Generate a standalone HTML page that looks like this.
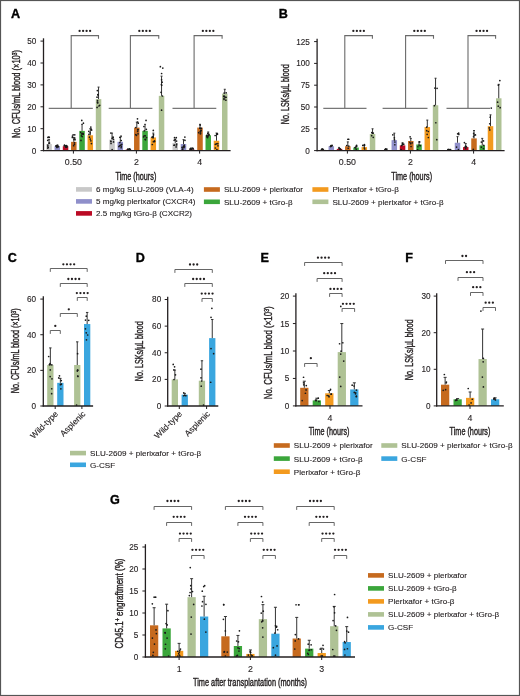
<!DOCTYPE html><html><head><meta charset="utf-8"><style>html,body{margin:0;padding:0;background:#fff;width:520px;height:696px;overflow:hidden}svg{display:block;will-change:transform;font-family:"Liberation Sans", sans-serif}</style></head><body><svg width="520" height="696" viewBox="0 0 520 696"><rect width="520" height="696" fill="#fff"/><rect x="0.5" y="0.5" width="519" height="695" fill="none" stroke="#555" stroke-width="1.2"/>
<text x="15.50" y="17.90" font-size="12.6" text-anchor="middle" font-weight="bold" fill="#000" stroke="#000" stroke-width="0.35">A</text>
<text x="283.20" y="17.80" font-size="12.6" text-anchor="middle" font-weight="bold" fill="#000" stroke="#000" stroke-width="0.35">B</text>
<text x="12.20" y="261.70" font-size="12.6" text-anchor="middle" font-weight="bold" fill="#000" stroke="#000" stroke-width="0.35">C</text>
<text x="140.40" y="261.70" font-size="12.6" text-anchor="middle" font-weight="bold" fill="#000" stroke="#000" stroke-width="0.35">D</text>
<text x="264.70" y="262.10" font-size="12.6" text-anchor="middle" font-weight="bold" fill="#000" stroke="#000" stroke-width="0.35">E</text>
<text x="409.00" y="262.20" font-size="12.6" text-anchor="middle" font-weight="bold" fill="#000" stroke="#000" stroke-width="0.35">F</text>
<text x="114.90" y="504.40" font-size="12.6" text-anchor="middle" font-weight="bold" fill="#000" stroke="#000" stroke-width="0.35">G</text>
<line x1="43.50" y1="38.30" x2="43.50" y2="151.20" stroke="#231f20" stroke-width="1.3"/>
<line x1="40.50" y1="150.60" x2="43.50" y2="150.60" stroke="#231f20" stroke-width="1.0"/>
<text x="36.30" y="153.55" font-size="8.2" text-anchor="end" font-weight="normal" fill="#231f20" stroke="#231f20" stroke-width="0.12">0</text>
<line x1="40.50" y1="128.70" x2="43.50" y2="128.70" stroke="#231f20" stroke-width="1.0"/>
<text x="36.30" y="131.65" font-size="8.2" text-anchor="end" font-weight="normal" fill="#231f20" stroke="#231f20" stroke-width="0.12">10</text>
<line x1="40.50" y1="106.80" x2="43.50" y2="106.80" stroke="#231f20" stroke-width="1.0"/>
<text x="36.30" y="109.75" font-size="8.2" text-anchor="end" font-weight="normal" fill="#231f20" stroke="#231f20" stroke-width="0.12">20</text>
<line x1="40.50" y1="84.90" x2="43.50" y2="84.90" stroke="#231f20" stroke-width="1.0"/>
<text x="36.30" y="87.85" font-size="8.2" text-anchor="end" font-weight="normal" fill="#231f20" stroke="#231f20" stroke-width="0.12">30</text>
<line x1="40.50" y1="63.00" x2="43.50" y2="63.00" stroke="#231f20" stroke-width="1.0"/>
<text x="36.30" y="65.95" font-size="8.2" text-anchor="end" font-weight="normal" fill="#231f20" stroke="#231f20" stroke-width="0.12">40</text>
<line x1="40.50" y1="41.10" x2="43.50" y2="41.10" stroke="#231f20" stroke-width="1.0"/>
<text x="36.30" y="44.05" font-size="8.2" text-anchor="end" font-weight="normal" fill="#231f20" stroke="#231f20" stroke-width="0.12">50</text>
<rect x="46.30" y="144.03" width="5.50" height="6.57" fill="#c8c8c8"/>
<line x1="49.05" y1="144.03" x2="49.05" y2="139.65" stroke="#333" stroke-width="1.0"/>
<line x1="48.05" y1="139.65" x2="50.05" y2="139.65" stroke="#333" stroke-width="1.0"/>
<circle cx="49.51" cy="143.02" r="0.85" fill="#1a1a1a"/>
<circle cx="47.76" cy="146.05" r="0.85" fill="#1a1a1a"/>
<circle cx="47.71" cy="140.36" r="0.85" fill="#1a1a1a"/>
<circle cx="49.07" cy="143.19" r="0.85" fill="#1a1a1a"/>
<circle cx="47.75" cy="148.12" r="0.85" fill="#1a1a1a"/>
<circle cx="47.81" cy="145.01" r="0.85" fill="#1a1a1a"/>
<circle cx="47.91" cy="137.46" r="0.85" fill="#1a1a1a"/>
<circle cx="48.21" cy="147.40" r="0.85" fill="#1a1a1a"/>
<circle cx="49.28" cy="137.36" r="0.85" fill="#1a1a1a"/>
<circle cx="48.74" cy="137.16" r="0.85" fill="#1a1a1a"/>
<rect x="54.55" y="146.22" width="5.50" height="4.38" fill="#8f8fca"/>
<line x1="57.30" y1="146.22" x2="57.30" y2="145.12" stroke="#333" stroke-width="1.0"/>
<line x1="56.30" y1="145.12" x2="58.30" y2="145.12" stroke="#333" stroke-width="1.0"/>
<circle cx="58.38" cy="146.52" r="0.85" fill="#1a1a1a"/>
<circle cx="56.66" cy="146.17" r="0.85" fill="#1a1a1a"/>
<circle cx="56.72" cy="146.52" r="0.85" fill="#1a1a1a"/>
<circle cx="58.26" cy="146.61" r="0.85" fill="#1a1a1a"/>
<circle cx="57.72" cy="146.77" r="0.85" fill="#1a1a1a"/>
<circle cx="56.91" cy="147.40" r="0.85" fill="#1a1a1a"/>
<circle cx="55.97" cy="145.88" r="0.85" fill="#1a1a1a"/>
<circle cx="56.41" cy="146.12" r="0.85" fill="#1a1a1a"/>
<circle cx="56.74" cy="145.78" r="0.85" fill="#1a1a1a"/>
<circle cx="57.56" cy="145.28" r="0.85" fill="#1a1a1a"/>
<rect x="62.80" y="146.22" width="5.50" height="4.38" fill="#bb0a24"/>
<line x1="65.55" y1="146.22" x2="65.55" y2="145.56" stroke="#333" stroke-width="1.0"/>
<line x1="64.55" y1="145.56" x2="66.55" y2="145.56" stroke="#333" stroke-width="1.0"/>
<circle cx="66.44" cy="145.64" r="0.85" fill="#1a1a1a"/>
<circle cx="66.15" cy="146.40" r="0.85" fill="#1a1a1a"/>
<circle cx="65.63" cy="146.25" r="0.85" fill="#1a1a1a"/>
<circle cx="66.68" cy="147.16" r="0.85" fill="#1a1a1a"/>
<circle cx="67.00" cy="146.14" r="0.85" fill="#1a1a1a"/>
<circle cx="64.39" cy="145.63" r="0.85" fill="#1a1a1a"/>
<circle cx="64.50" cy="145.17" r="0.85" fill="#1a1a1a"/>
<circle cx="65.52" cy="146.82" r="0.85" fill="#1a1a1a"/>
<circle cx="66.35" cy="147.26" r="0.85" fill="#1a1a1a"/>
<circle cx="65.77" cy="146.48" r="0.85" fill="#1a1a1a"/>
<rect x="71.05" y="141.84" width="5.50" height="8.76" fill="#c66a1e"/>
<line x1="73.80" y1="141.84" x2="73.80" y2="137.46" stroke="#333" stroke-width="1.0"/>
<line x1="72.80" y1="137.46" x2="74.80" y2="137.46" stroke="#333" stroke-width="1.0"/>
<circle cx="74.39" cy="144.27" r="0.85" fill="#1a1a1a"/>
<circle cx="74.09" cy="139.43" r="0.85" fill="#1a1a1a"/>
<circle cx="74.83" cy="138.03" r="0.85" fill="#1a1a1a"/>
<circle cx="75.15" cy="139.75" r="0.85" fill="#1a1a1a"/>
<circle cx="72.47" cy="136.09" r="0.85" fill="#1a1a1a"/>
<circle cx="74.41" cy="142.78" r="0.85" fill="#1a1a1a"/>
<circle cx="74.77" cy="134.83" r="0.85" fill="#1a1a1a"/>
<circle cx="73.15" cy="134.83" r="0.85" fill="#1a1a1a"/>
<circle cx="72.36" cy="137.43" r="0.85" fill="#1a1a1a"/>
<circle cx="73.68" cy="145.69" r="0.85" fill="#1a1a1a"/>
<rect x="79.30" y="130.89" width="5.50" height="19.71" fill="#3ba63b"/>
<line x1="82.05" y1="130.89" x2="82.05" y2="124.32" stroke="#333" stroke-width="1.0"/>
<line x1="81.05" y1="124.32" x2="83.05" y2="124.32" stroke="#333" stroke-width="1.0"/>
<circle cx="80.72" cy="132.34" r="0.85" fill="#1a1a1a"/>
<circle cx="82.86" cy="133.46" r="0.85" fill="#1a1a1a"/>
<circle cx="81.72" cy="133.96" r="0.85" fill="#1a1a1a"/>
<circle cx="83.17" cy="134.13" r="0.85" fill="#1a1a1a"/>
<circle cx="82.20" cy="136.54" r="0.85" fill="#1a1a1a"/>
<circle cx="83.21" cy="134.02" r="0.85" fill="#1a1a1a"/>
<circle cx="81.38" cy="135.87" r="0.85" fill="#1a1a1a"/>
<circle cx="81.79" cy="120.38" r="0.85" fill="#1a1a1a"/>
<circle cx="83.43" cy="123.14" r="0.85" fill="#1a1a1a"/>
<circle cx="80.99" cy="140.41" r="0.85" fill="#1a1a1a"/>
<rect x="87.55" y="135.27" width="5.50" height="15.33" fill="#f39a1e"/>
<line x1="90.30" y1="135.27" x2="90.30" y2="128.70" stroke="#333" stroke-width="1.0"/>
<line x1="89.30" y1="128.70" x2="91.30" y2="128.70" stroke="#333" stroke-width="1.0"/>
<circle cx="89.49" cy="137.19" r="0.85" fill="#1a1a1a"/>
<circle cx="90.25" cy="139.11" r="0.85" fill="#1a1a1a"/>
<circle cx="88.80" cy="131.36" r="0.85" fill="#1a1a1a"/>
<circle cx="90.05" cy="132.82" r="0.85" fill="#1a1a1a"/>
<circle cx="91.67" cy="130.06" r="0.85" fill="#1a1a1a"/>
<circle cx="90.88" cy="140.87" r="0.85" fill="#1a1a1a"/>
<circle cx="90.83" cy="127.11" r="0.85" fill="#1a1a1a"/>
<circle cx="88.95" cy="134.47" r="0.85" fill="#1a1a1a"/>
<circle cx="91.43" cy="143.58" r="0.85" fill="#1a1a1a"/>
<circle cx="91.20" cy="129.20" r="0.85" fill="#1a1a1a"/>
<rect x="95.80" y="99.13" width="5.50" height="51.47" fill="#afc295"/>
<line x1="98.55" y1="99.13" x2="98.55" y2="87.09" stroke="#333" stroke-width="1.0"/>
<line x1="97.55" y1="87.09" x2="99.55" y2="87.09" stroke="#333" stroke-width="1.0"/>
<circle cx="97.35" cy="90.60" r="0.85" fill="#1a1a1a"/>
<circle cx="98.96" cy="105.98" r="0.85" fill="#1a1a1a"/>
<circle cx="97.67" cy="102.88" r="0.85" fill="#1a1a1a"/>
<circle cx="97.53" cy="100.68" r="0.85" fill="#1a1a1a"/>
<circle cx="97.04" cy="97.22" r="0.85" fill="#1a1a1a"/>
<circle cx="97.50" cy="102.14" r="0.85" fill="#1a1a1a"/>
<circle cx="97.11" cy="107.42" r="0.85" fill="#1a1a1a"/>
<circle cx="99.68" cy="105.27" r="0.85" fill="#1a1a1a"/>
<circle cx="97.80" cy="94.50" r="0.85" fill="#1a1a1a"/>
<circle cx="98.09" cy="95.10" r="0.85" fill="#1a1a1a"/>
<line x1="48.70" y1="108.30" x2="92.80" y2="108.30" stroke="#777" stroke-width="1.2"/>
<polyline points="71.20,108 71.20,35.6 98.50,35.6 98.50,38.8" fill="none" stroke="#6a6a6a" stroke-width="1.1"/>
<circle cx="79.60" cy="30.90" r="1.15" fill="#231f20"/>
<circle cx="83.10" cy="30.90" r="1.15" fill="#231f20"/>
<circle cx="86.60" cy="30.90" r="1.15" fill="#231f20"/>
<circle cx="90.10" cy="30.90" r="1.15" fill="#231f20"/>
<text x="73.40" y="165.00" font-size="8.8" text-anchor="middle" font-weight="normal" fill="#231f20" stroke="#231f20" stroke-width="0.12">0.50</text>
<rect x="109.30" y="139.65" width="5.50" height="10.95" fill="#c8c8c8"/>
<line x1="112.05" y1="139.65" x2="112.05" y2="133.08" stroke="#333" stroke-width="1.0"/>
<line x1="111.05" y1="133.08" x2="113.05" y2="133.08" stroke="#333" stroke-width="1.0"/>
<circle cx="113.11" cy="137.66" r="0.85" fill="#1a1a1a"/>
<circle cx="113.54" cy="141.93" r="0.85" fill="#1a1a1a"/>
<circle cx="110.80" cy="133.00" r="0.85" fill="#1a1a1a"/>
<circle cx="110.85" cy="141.09" r="0.85" fill="#1a1a1a"/>
<circle cx="113.04" cy="137.10" r="0.85" fill="#1a1a1a"/>
<circle cx="111.03" cy="143.52" r="0.85" fill="#1a1a1a"/>
<circle cx="112.14" cy="149.70" r="0.85" fill="#1a1a1a"/>
<circle cx="110.98" cy="141.75" r="0.85" fill="#1a1a1a"/>
<circle cx="112.14" cy="138.32" r="0.85" fill="#1a1a1a"/>
<circle cx="113.50" cy="139.28" r="0.85" fill="#1a1a1a"/>
<rect x="117.55" y="141.84" width="5.50" height="8.76" fill="#8f8fca"/>
<line x1="120.30" y1="141.84" x2="120.30" y2="137.46" stroke="#333" stroke-width="1.0"/>
<line x1="119.30" y1="137.46" x2="121.30" y2="137.46" stroke="#333" stroke-width="1.0"/>
<circle cx="119.58" cy="145.82" r="0.85" fill="#1a1a1a"/>
<circle cx="119.90" cy="137.23" r="0.85" fill="#1a1a1a"/>
<circle cx="120.40" cy="145.22" r="0.85" fill="#1a1a1a"/>
<circle cx="121.14" cy="147.72" r="0.85" fill="#1a1a1a"/>
<circle cx="121.24" cy="140.50" r="0.85" fill="#1a1a1a"/>
<circle cx="121.77" cy="144.30" r="0.85" fill="#1a1a1a"/>
<circle cx="121.26" cy="146.13" r="0.85" fill="#1a1a1a"/>
<circle cx="121.03" cy="136.13" r="0.85" fill="#1a1a1a"/>
<circle cx="119.86" cy="142.53" r="0.85" fill="#1a1a1a"/>
<circle cx="118.88" cy="146.55" r="0.85" fill="#1a1a1a"/>
<rect x="125.80" y="149.50" width="5.50" height="1.09" fill="#bb0a24"/>
<line x1="128.55" y1="149.50" x2="128.55" y2="149.07" stroke="#333" stroke-width="1.0"/>
<line x1="127.55" y1="149.07" x2="129.55" y2="149.07" stroke="#333" stroke-width="1.0"/>
<circle cx="127.82" cy="149.70" r="0.85" fill="#1a1a1a"/>
<circle cx="129.13" cy="149.61" r="0.85" fill="#1a1a1a"/>
<circle cx="129.87" cy="149.70" r="0.85" fill="#1a1a1a"/>
<circle cx="130.03" cy="149.29" r="0.85" fill="#1a1a1a"/>
<circle cx="127.70" cy="149.70" r="0.85" fill="#1a1a1a"/>
<circle cx="127.72" cy="149.31" r="0.85" fill="#1a1a1a"/>
<circle cx="128.93" cy="149.66" r="0.85" fill="#1a1a1a"/>
<circle cx="129.76" cy="149.70" r="0.85" fill="#1a1a1a"/>
<circle cx="129.01" cy="149.70" r="0.85" fill="#1a1a1a"/>
<circle cx="129.46" cy="148.81" r="0.85" fill="#1a1a1a"/>
<rect x="134.05" y="127.60" width="5.50" height="23.00" fill="#c66a1e"/>
<line x1="136.80" y1="127.60" x2="136.80" y2="122.13" stroke="#333" stroke-width="1.0"/>
<line x1="135.80" y1="122.13" x2="137.80" y2="122.13" stroke="#333" stroke-width="1.0"/>
<circle cx="138.04" cy="133.85" r="0.85" fill="#1a1a1a"/>
<circle cx="137.65" cy="131.28" r="0.85" fill="#1a1a1a"/>
<circle cx="135.83" cy="127.61" r="0.85" fill="#1a1a1a"/>
<circle cx="137.67" cy="121.99" r="0.85" fill="#1a1a1a"/>
<circle cx="138.23" cy="123.22" r="0.85" fill="#1a1a1a"/>
<circle cx="136.48" cy="135.29" r="0.85" fill="#1a1a1a"/>
<circle cx="137.48" cy="118.84" r="0.85" fill="#1a1a1a"/>
<circle cx="135.80" cy="134.54" r="0.85" fill="#1a1a1a"/>
<circle cx="138.02" cy="129.57" r="0.85" fill="#1a1a1a"/>
<circle cx="137.73" cy="129.63" r="0.85" fill="#1a1a1a"/>
<rect x="142.30" y="130.89" width="5.50" height="19.71" fill="#3ba63b"/>
<line x1="145.05" y1="130.89" x2="145.05" y2="124.32" stroke="#333" stroke-width="1.0"/>
<line x1="144.05" y1="124.32" x2="146.05" y2="124.32" stroke="#333" stroke-width="1.0"/>
<circle cx="146.50" cy="137.61" r="0.85" fill="#1a1a1a"/>
<circle cx="145.53" cy="139.68" r="0.85" fill="#1a1a1a"/>
<circle cx="143.93" cy="126.49" r="0.85" fill="#1a1a1a"/>
<circle cx="143.58" cy="136.91" r="0.85" fill="#1a1a1a"/>
<circle cx="145.13" cy="139.31" r="0.85" fill="#1a1a1a"/>
<circle cx="146.36" cy="129.33" r="0.85" fill="#1a1a1a"/>
<circle cx="146.04" cy="120.38" r="0.85" fill="#1a1a1a"/>
<circle cx="144.18" cy="135.73" r="0.85" fill="#1a1a1a"/>
<circle cx="144.27" cy="130.83" r="0.85" fill="#1a1a1a"/>
<circle cx="145.31" cy="135.81" r="0.85" fill="#1a1a1a"/>
<rect x="150.55" y="137.46" width="5.50" height="13.14" fill="#f39a1e"/>
<line x1="153.30" y1="137.46" x2="153.30" y2="133.08" stroke="#333" stroke-width="1.0"/>
<line x1="152.30" y1="133.08" x2="154.30" y2="133.08" stroke="#333" stroke-width="1.0"/>
<circle cx="152.18" cy="137.22" r="0.85" fill="#1a1a1a"/>
<circle cx="154.54" cy="141.56" r="0.85" fill="#1a1a1a"/>
<circle cx="153.55" cy="134.81" r="0.85" fill="#1a1a1a"/>
<circle cx="154.52" cy="140.93" r="0.85" fill="#1a1a1a"/>
<circle cx="153.30" cy="130.45" r="0.85" fill="#1a1a1a"/>
<circle cx="153.40" cy="141.67" r="0.85" fill="#1a1a1a"/>
<circle cx="153.12" cy="136.70" r="0.85" fill="#1a1a1a"/>
<circle cx="152.34" cy="137.35" r="0.85" fill="#1a1a1a"/>
<circle cx="152.31" cy="144.52" r="0.85" fill="#1a1a1a"/>
<circle cx="153.22" cy="137.63" r="0.85" fill="#1a1a1a"/>
<rect x="158.80" y="95.85" width="5.50" height="54.75" fill="#afc295"/>
<line x1="161.55" y1="95.85" x2="161.55" y2="76.14" stroke="#333" stroke-width="1.0"/>
<line x1="160.55" y1="76.14" x2="162.55" y2="76.14" stroke="#333" stroke-width="1.0"/>
<circle cx="161.02" cy="92.34" r="0.85" fill="#1a1a1a"/>
<circle cx="161.61" cy="73.50" r="0.85" fill="#1a1a1a"/>
<circle cx="160.36" cy="66.65" r="0.85" fill="#1a1a1a"/>
<circle cx="161.73" cy="85.24" r="0.85" fill="#1a1a1a"/>
<circle cx="162.37" cy="95.99" r="0.85" fill="#1a1a1a"/>
<circle cx="161.57" cy="110.13" r="0.85" fill="#1a1a1a"/>
<circle cx="162.80" cy="68.11" r="0.85" fill="#1a1a1a"/>
<circle cx="161.38" cy="84.52" r="0.85" fill="#1a1a1a"/>
<circle cx="161.59" cy="79.84" r="0.85" fill="#1a1a1a"/>
<circle cx="162.13" cy="82.17" r="0.85" fill="#1a1a1a"/>
<line x1="108.70" y1="108.30" x2="152.40" y2="108.30" stroke="#777" stroke-width="1.2"/>
<polyline points="130.40,108 130.40,35.6 158.75,35.6 158.75,38.8" fill="none" stroke="#6a6a6a" stroke-width="1.1"/>
<circle cx="139.32" cy="30.90" r="1.15" fill="#231f20"/>
<circle cx="142.82" cy="30.90" r="1.15" fill="#231f20"/>
<circle cx="146.32" cy="30.90" r="1.15" fill="#231f20"/>
<circle cx="149.82" cy="30.90" r="1.15" fill="#231f20"/>
<text x="136.40" y="165.00" font-size="8.8" text-anchor="middle" font-weight="normal" fill="#231f20" stroke="#231f20" stroke-width="0.12">2</text>
<rect x="172.50" y="142.94" width="5.50" height="7.66" fill="#c8c8c8"/>
<line x1="175.25" y1="142.94" x2="175.25" y2="139.65" stroke="#333" stroke-width="1.0"/>
<line x1="174.25" y1="139.65" x2="176.25" y2="139.65" stroke="#333" stroke-width="1.0"/>
<circle cx="175.18" cy="139.45" r="0.85" fill="#1a1a1a"/>
<circle cx="176.59" cy="144.01" r="0.85" fill="#1a1a1a"/>
<circle cx="176.59" cy="141.04" r="0.85" fill="#1a1a1a"/>
<circle cx="174.52" cy="137.68" r="0.85" fill="#1a1a1a"/>
<circle cx="176.28" cy="137.68" r="0.85" fill="#1a1a1a"/>
<circle cx="174.15" cy="140.35" r="0.85" fill="#1a1a1a"/>
<circle cx="173.96" cy="145.24" r="0.85" fill="#1a1a1a"/>
<circle cx="174.47" cy="145.15" r="0.85" fill="#1a1a1a"/>
<circle cx="176.11" cy="146.88" r="0.85" fill="#1a1a1a"/>
<circle cx="176.45" cy="144.89" r="0.85" fill="#1a1a1a"/>
<rect x="180.75" y="144.03" width="5.50" height="6.57" fill="#8f8fca"/>
<line x1="183.50" y1="144.03" x2="183.50" y2="139.65" stroke="#333" stroke-width="1.0"/>
<line x1="182.50" y1="139.65" x2="184.50" y2="139.65" stroke="#333" stroke-width="1.0"/>
<circle cx="183.98" cy="147.56" r="0.85" fill="#1a1a1a"/>
<circle cx="182.42" cy="149.19" r="0.85" fill="#1a1a1a"/>
<circle cx="182.65" cy="149.70" r="0.85" fill="#1a1a1a"/>
<circle cx="184.87" cy="137.10" r="0.85" fill="#1a1a1a"/>
<circle cx="184.98" cy="140.37" r="0.85" fill="#1a1a1a"/>
<circle cx="184.51" cy="146.75" r="0.85" fill="#1a1a1a"/>
<circle cx="183.55" cy="146.24" r="0.85" fill="#1a1a1a"/>
<circle cx="183.01" cy="147.59" r="0.85" fill="#1a1a1a"/>
<circle cx="184.17" cy="145.18" r="0.85" fill="#1a1a1a"/>
<circle cx="182.05" cy="147.28" r="0.85" fill="#1a1a1a"/>
<rect x="189.00" y="149.50" width="5.50" height="1.09" fill="#bb0a24"/>
<line x1="191.75" y1="149.50" x2="191.75" y2="149.07" stroke="#333" stroke-width="1.0"/>
<line x1="190.75" y1="149.07" x2="192.75" y2="149.07" stroke="#333" stroke-width="1.0"/>
<circle cx="190.29" cy="148.77" r="0.85" fill="#1a1a1a"/>
<circle cx="191.24" cy="149.25" r="0.85" fill="#1a1a1a"/>
<circle cx="190.43" cy="148.89" r="0.85" fill="#1a1a1a"/>
<circle cx="193.22" cy="148.90" r="0.85" fill="#1a1a1a"/>
<circle cx="190.55" cy="149.70" r="0.85" fill="#1a1a1a"/>
<circle cx="191.04" cy="148.22" r="0.85" fill="#1a1a1a"/>
<circle cx="191.06" cy="149.70" r="0.85" fill="#1a1a1a"/>
<circle cx="190.63" cy="149.70" r="0.85" fill="#1a1a1a"/>
<circle cx="192.71" cy="148.22" r="0.85" fill="#1a1a1a"/>
<circle cx="191.02" cy="149.70" r="0.85" fill="#1a1a1a"/>
<rect x="197.25" y="127.60" width="5.50" height="23.00" fill="#c66a1e"/>
<line x1="200.00" y1="127.60" x2="200.00" y2="124.32" stroke="#333" stroke-width="1.0"/>
<line x1="199.00" y1="124.32" x2="201.00" y2="124.32" stroke="#333" stroke-width="1.0"/>
<circle cx="200.21" cy="131.52" r="0.85" fill="#1a1a1a"/>
<circle cx="200.61" cy="132.95" r="0.85" fill="#1a1a1a"/>
<circle cx="200.57" cy="128.47" r="0.85" fill="#1a1a1a"/>
<circle cx="199.77" cy="128.15" r="0.85" fill="#1a1a1a"/>
<circle cx="200.41" cy="133.87" r="0.85" fill="#1a1a1a"/>
<circle cx="200.91" cy="130.67" r="0.85" fill="#1a1a1a"/>
<circle cx="198.69" cy="132.64" r="0.85" fill="#1a1a1a"/>
<circle cx="201.10" cy="130.53" r="0.85" fill="#1a1a1a"/>
<circle cx="200.16" cy="125.03" r="0.85" fill="#1a1a1a"/>
<circle cx="201.29" cy="128.38" r="0.85" fill="#1a1a1a"/>
<rect x="205.50" y="135.27" width="5.50" height="15.33" fill="#3ba63b"/>
<line x1="208.25" y1="135.27" x2="208.25" y2="131.98" stroke="#333" stroke-width="1.0"/>
<line x1="207.25" y1="131.98" x2="209.25" y2="131.98" stroke="#333" stroke-width="1.0"/>
<circle cx="208.33" cy="135.10" r="0.85" fill="#1a1a1a"/>
<circle cx="207.46" cy="136.82" r="0.85" fill="#1a1a1a"/>
<circle cx="206.89" cy="136.63" r="0.85" fill="#1a1a1a"/>
<circle cx="207.35" cy="136.38" r="0.85" fill="#1a1a1a"/>
<circle cx="209.03" cy="134.31" r="0.85" fill="#1a1a1a"/>
<circle cx="207.61" cy="137.60" r="0.85" fill="#1a1a1a"/>
<circle cx="207.79" cy="133.42" r="0.85" fill="#1a1a1a"/>
<circle cx="206.79" cy="135.27" r="0.85" fill="#1a1a1a"/>
<circle cx="208.96" cy="135.27" r="0.85" fill="#1a1a1a"/>
<circle cx="208.40" cy="135.79" r="0.85" fill="#1a1a1a"/>
<rect x="213.75" y="140.75" width="5.50" height="9.85" fill="#f39a1e"/>
<line x1="216.50" y1="140.75" x2="216.50" y2="133.08" stroke="#333" stroke-width="1.0"/>
<line x1="215.50" y1="133.08" x2="217.50" y2="133.08" stroke="#333" stroke-width="1.0"/>
<circle cx="217.81" cy="143.65" r="0.85" fill="#1a1a1a"/>
<circle cx="215.31" cy="148.01" r="0.85" fill="#1a1a1a"/>
<circle cx="216.48" cy="143.82" r="0.85" fill="#1a1a1a"/>
<circle cx="217.51" cy="134.08" r="0.85" fill="#1a1a1a"/>
<circle cx="217.07" cy="134.33" r="0.85" fill="#1a1a1a"/>
<circle cx="217.96" cy="145.85" r="0.85" fill="#1a1a1a"/>
<circle cx="217.13" cy="133.57" r="0.85" fill="#1a1a1a"/>
<circle cx="216.91" cy="149.70" r="0.85" fill="#1a1a1a"/>
<circle cx="215.15" cy="135.48" r="0.85" fill="#1a1a1a"/>
<circle cx="215.38" cy="144.34" r="0.85" fill="#1a1a1a"/>
<rect x="222.00" y="93.66" width="5.50" height="56.94" fill="#afc295"/>
<line x1="224.75" y1="93.66" x2="224.75" y2="89.28" stroke="#333" stroke-width="1.0"/>
<line x1="223.75" y1="89.28" x2="225.75" y2="89.28" stroke="#333" stroke-width="1.0"/>
<circle cx="224.01" cy="99.51" r="0.85" fill="#1a1a1a"/>
<circle cx="223.73" cy="96.45" r="0.85" fill="#1a1a1a"/>
<circle cx="225.87" cy="100.18" r="0.85" fill="#1a1a1a"/>
<circle cx="225.27" cy="97.49" r="0.85" fill="#1a1a1a"/>
<circle cx="224.12" cy="93.07" r="0.85" fill="#1a1a1a"/>
<circle cx="224.63" cy="96.54" r="0.85" fill="#1a1a1a"/>
<circle cx="224.03" cy="96.01" r="0.85" fill="#1a1a1a"/>
<circle cx="226.15" cy="97.24" r="0.85" fill="#1a1a1a"/>
<circle cx="223.98" cy="98.55" r="0.85" fill="#1a1a1a"/>
<circle cx="226.16" cy="92.81" r="0.85" fill="#1a1a1a"/>
<line x1="172.50" y1="108.30" x2="216.30" y2="108.30" stroke="#777" stroke-width="1.2"/>
<polyline points="194.10,108 194.10,35.6 222.10,35.6 222.10,38.8" fill="none" stroke="#6a6a6a" stroke-width="1.1"/>
<circle cx="202.85" cy="30.90" r="1.15" fill="#231f20"/>
<circle cx="206.35" cy="30.90" r="1.15" fill="#231f20"/>
<circle cx="209.85" cy="30.90" r="1.15" fill="#231f20"/>
<circle cx="213.35" cy="30.90" r="1.15" fill="#231f20"/>
<text x="199.60" y="165.00" font-size="8.8" text-anchor="middle" font-weight="normal" fill="#231f20" stroke="#231f20" stroke-width="0.12">4</text>
<line x1="42.90" y1="150.60" x2="230.60" y2="150.60" stroke="#231f20" stroke-width="1.3"/>
<line x1="73.40" y1="150.60" x2="73.40" y2="153.60" stroke="#231f20" stroke-width="1.0"/>
<line x1="136.40" y1="150.60" x2="136.40" y2="153.60" stroke="#231f20" stroke-width="1.0"/>
<line x1="199.60" y1="150.60" x2="199.60" y2="153.60" stroke="#231f20" stroke-width="1.0"/>
<text x="20.30" y="94.00" font-size="10.6" text-anchor="middle" font-weight="normal" fill="#231f20" stroke="#231f20" stroke-width="0.4" textLength="88" lengthAdjust="spacingAndGlyphs" transform="rotate(-90 20.30 94.00)">No. CFUs/mL blood (×10<tspan baseline-shift="super" font-size="7">3</tspan>)</text>
<text x="135.90" y="179.60" font-size="10.6" text-anchor="middle" font-weight="normal" fill="#231f20" stroke="#231f20" stroke-width="0.4" textLength="40.8" lengthAdjust="spacingAndGlyphs">Time (hours)</text>
<line x1="317.10" y1="38.80" x2="317.10" y2="151.20" stroke="#231f20" stroke-width="1.3"/>
<line x1="314.10" y1="150.60" x2="317.10" y2="150.60" stroke="#231f20" stroke-width="1.0"/>
<text x="309.90" y="153.55" font-size="8.2" text-anchor="end" font-weight="normal" fill="#231f20" stroke="#231f20" stroke-width="0.12">0</text>
<line x1="314.10" y1="128.80" x2="317.10" y2="128.80" stroke="#231f20" stroke-width="1.0"/>
<text x="309.90" y="131.75" font-size="8.2" text-anchor="end" font-weight="normal" fill="#231f20" stroke="#231f20" stroke-width="0.12">25</text>
<line x1="314.10" y1="107.00" x2="317.10" y2="107.00" stroke="#231f20" stroke-width="1.0"/>
<text x="309.90" y="109.95" font-size="8.2" text-anchor="end" font-weight="normal" fill="#231f20" stroke="#231f20" stroke-width="0.12">50</text>
<line x1="314.10" y1="85.20" x2="317.10" y2="85.20" stroke="#231f20" stroke-width="1.0"/>
<text x="309.90" y="88.15" font-size="8.2" text-anchor="end" font-weight="normal" fill="#231f20" stroke="#231f20" stroke-width="0.12">75</text>
<line x1="314.10" y1="63.40" x2="317.10" y2="63.40" stroke="#231f20" stroke-width="1.0"/>
<text x="309.90" y="66.35" font-size="8.2" text-anchor="end" font-weight="normal" fill="#231f20" stroke="#231f20" stroke-width="0.12">100</text>
<line x1="314.10" y1="41.60" x2="317.10" y2="41.60" stroke="#231f20" stroke-width="1.0"/>
<text x="309.90" y="44.55" font-size="8.2" text-anchor="end" font-weight="normal" fill="#231f20" stroke="#231f20" stroke-width="0.12">125</text>
<rect x="320.30" y="149.73" width="5.50" height="0.87" fill="#c8c8c8"/>
<line x1="323.05" y1="149.73" x2="323.05" y2="149.29" stroke="#333" stroke-width="1.0"/>
<line x1="322.05" y1="149.29" x2="324.05" y2="149.29" stroke="#333" stroke-width="1.0"/>
<circle cx="321.54" cy="149.48" r="0.85" fill="#1a1a1a"/>
<circle cx="322.69" cy="149.70" r="0.85" fill="#1a1a1a"/>
<circle cx="322.15" cy="148.89" r="0.85" fill="#1a1a1a"/>
<circle cx="323.06" cy="149.70" r="0.85" fill="#1a1a1a"/>
<circle cx="321.81" cy="149.70" r="0.85" fill="#1a1a1a"/>
<rect x="328.55" y="146.24" width="5.50" height="4.36" fill="#8f8fca"/>
<line x1="331.30" y1="146.24" x2="331.30" y2="145.37" stroke="#333" stroke-width="1.0"/>
<line x1="330.30" y1="145.37" x2="332.30" y2="145.37" stroke="#333" stroke-width="1.0"/>
<circle cx="331.00" cy="146.26" r="0.85" fill="#1a1a1a"/>
<circle cx="330.71" cy="146.40" r="0.85" fill="#1a1a1a"/>
<circle cx="330.49" cy="146.28" r="0.85" fill="#1a1a1a"/>
<circle cx="332.06" cy="145.41" r="0.85" fill="#1a1a1a"/>
<circle cx="331.78" cy="145.75" r="0.85" fill="#1a1a1a"/>
<rect x="336.80" y="148.86" width="5.50" height="1.74" fill="#bb0a24"/>
<line x1="339.55" y1="148.86" x2="339.55" y2="148.42" stroke="#333" stroke-width="1.0"/>
<line x1="338.55" y1="148.42" x2="340.55" y2="148.42" stroke="#333" stroke-width="1.0"/>
<circle cx="339.22" cy="148.54" r="0.85" fill="#1a1a1a"/>
<circle cx="339.02" cy="147.58" r="0.85" fill="#1a1a1a"/>
<circle cx="340.23" cy="149.26" r="0.85" fill="#1a1a1a"/>
<circle cx="339.98" cy="148.82" r="0.85" fill="#1a1a1a"/>
<circle cx="340.74" cy="149.70" r="0.85" fill="#1a1a1a"/>
<rect x="345.05" y="146.24" width="5.50" height="4.36" fill="#c66a1e"/>
<line x1="347.80" y1="146.24" x2="347.80" y2="141.88" stroke="#333" stroke-width="1.0"/>
<line x1="346.80" y1="141.88" x2="348.80" y2="141.88" stroke="#333" stroke-width="1.0"/>
<circle cx="348.19" cy="148.26" r="0.85" fill="#1a1a1a"/>
<circle cx="346.71" cy="145.51" r="0.85" fill="#1a1a1a"/>
<circle cx="347.87" cy="139.26" r="0.85" fill="#1a1a1a"/>
<circle cx="348.72" cy="139.26" r="0.85" fill="#1a1a1a"/>
<circle cx="348.79" cy="146.04" r="0.85" fill="#1a1a1a"/>
<rect x="353.30" y="147.55" width="5.50" height="3.05" fill="#3ba63b"/>
<line x1="356.05" y1="147.55" x2="356.05" y2="146.24" stroke="#333" stroke-width="1.0"/>
<line x1="355.05" y1="146.24" x2="357.05" y2="146.24" stroke="#333" stroke-width="1.0"/>
<circle cx="356.60" cy="145.46" r="0.85" fill="#1a1a1a"/>
<circle cx="356.63" cy="146.29" r="0.85" fill="#1a1a1a"/>
<circle cx="354.94" cy="147.59" r="0.85" fill="#1a1a1a"/>
<circle cx="355.63" cy="147.84" r="0.85" fill="#1a1a1a"/>
<circle cx="356.23" cy="149.32" r="0.85" fill="#1a1a1a"/>
<rect x="361.55" y="147.11" width="5.50" height="3.49" fill="#f39a1e"/>
<line x1="364.30" y1="147.11" x2="364.30" y2="145.37" stroke="#333" stroke-width="1.0"/>
<line x1="363.30" y1="145.37" x2="365.30" y2="145.37" stroke="#333" stroke-width="1.0"/>
<circle cx="364.69" cy="148.94" r="0.85" fill="#1a1a1a"/>
<circle cx="364.27" cy="145.45" r="0.85" fill="#1a1a1a"/>
<circle cx="362.80" cy="145.42" r="0.85" fill="#1a1a1a"/>
<circle cx="364.31" cy="147.88" r="0.85" fill="#1a1a1a"/>
<circle cx="364.41" cy="144.62" r="0.85" fill="#1a1a1a"/>
<rect x="369.80" y="134.03" width="5.50" height="16.57" fill="#afc295"/>
<line x1="372.55" y1="134.03" x2="372.55" y2="128.80" stroke="#333" stroke-width="1.0"/>
<line x1="371.55" y1="128.80" x2="373.55" y2="128.80" stroke="#333" stroke-width="1.0"/>
<circle cx="373.27" cy="133.09" r="0.85" fill="#1a1a1a"/>
<circle cx="371.80" cy="132.57" r="0.85" fill="#1a1a1a"/>
<circle cx="373.24" cy="137.33" r="0.85" fill="#1a1a1a"/>
<circle cx="371.66" cy="135.70" r="0.85" fill="#1a1a1a"/>
<circle cx="372.53" cy="133.21" r="0.85" fill="#1a1a1a"/>
<line x1="323.30" y1="108.30" x2="366.50" y2="108.30" stroke="#777" stroke-width="1.2"/>
<polyline points="344.80,108 344.80,35.6 372.40,35.6 372.40,38.8" fill="none" stroke="#6a6a6a" stroke-width="1.1"/>
<circle cx="353.35" cy="30.90" r="1.15" fill="#231f20"/>
<circle cx="356.85" cy="30.90" r="1.15" fill="#231f20"/>
<circle cx="360.35" cy="30.90" r="1.15" fill="#231f20"/>
<circle cx="363.85" cy="30.90" r="1.15" fill="#231f20"/>
<text x="347.40" y="165.00" font-size="8.8" text-anchor="middle" font-weight="normal" fill="#231f20" stroke="#231f20" stroke-width="0.12">0.50</text>
<rect x="383.30" y="150.16" width="5.50" height="0.44" fill="#c8c8c8"/>
<line x1="386.05" y1="150.16" x2="386.05" y2="149.73" stroke="#333" stroke-width="1.0"/>
<line x1="385.05" y1="149.73" x2="387.05" y2="149.73" stroke="#333" stroke-width="1.0"/>
<circle cx="385.69" cy="148.88" r="0.85" fill="#1a1a1a"/>
<circle cx="386.86" cy="149.08" r="0.85" fill="#1a1a1a"/>
<circle cx="386.40" cy="149.70" r="0.85" fill="#1a1a1a"/>
<circle cx="384.98" cy="149.70" r="0.85" fill="#1a1a1a"/>
<circle cx="385.31" cy="149.70" r="0.85" fill="#1a1a1a"/>
<rect x="391.55" y="140.14" width="5.50" height="10.46" fill="#8f8fca"/>
<line x1="394.30" y1="140.14" x2="394.30" y2="133.16" stroke="#333" stroke-width="1.0"/>
<line x1="393.30" y1="133.16" x2="395.30" y2="133.16" stroke="#333" stroke-width="1.0"/>
<circle cx="394.50" cy="139.91" r="0.85" fill="#1a1a1a"/>
<circle cx="392.83" cy="134.79" r="0.85" fill="#1a1a1a"/>
<circle cx="394.82" cy="144.75" r="0.85" fill="#1a1a1a"/>
<circle cx="394.88" cy="141.98" r="0.85" fill="#1a1a1a"/>
<circle cx="394.35" cy="137.79" r="0.85" fill="#1a1a1a"/>
<rect x="399.80" y="145.37" width="5.50" height="5.23" fill="#bb0a24"/>
<line x1="402.55" y1="145.37" x2="402.55" y2="142.75" stroke="#333" stroke-width="1.0"/>
<line x1="401.55" y1="142.75" x2="403.55" y2="142.75" stroke="#333" stroke-width="1.0"/>
<circle cx="402.44" cy="143.62" r="0.85" fill="#1a1a1a"/>
<circle cx="403.74" cy="144.21" r="0.85" fill="#1a1a1a"/>
<circle cx="401.64" cy="145.62" r="0.85" fill="#1a1a1a"/>
<circle cx="401.09" cy="149.70" r="0.85" fill="#1a1a1a"/>
<circle cx="402.43" cy="144.61" r="0.85" fill="#1a1a1a"/>
<rect x="408.05" y="141.01" width="5.50" height="9.59" fill="#c66a1e"/>
<line x1="410.80" y1="141.01" x2="410.80" y2="138.39" stroke="#333" stroke-width="1.0"/>
<line x1="409.80" y1="138.39" x2="411.80" y2="138.39" stroke="#333" stroke-width="1.0"/>
<circle cx="410.65" cy="143.64" r="0.85" fill="#1a1a1a"/>
<circle cx="410.10" cy="136.82" r="0.85" fill="#1a1a1a"/>
<circle cx="409.92" cy="142.43" r="0.85" fill="#1a1a1a"/>
<circle cx="411.05" cy="146.51" r="0.85" fill="#1a1a1a"/>
<circle cx="412.17" cy="142.81" r="0.85" fill="#1a1a1a"/>
<rect x="416.30" y="144.50" width="5.50" height="6.10" fill="#3ba63b"/>
<line x1="419.05" y1="144.50" x2="419.05" y2="141.88" stroke="#333" stroke-width="1.0"/>
<line x1="418.05" y1="141.88" x2="420.05" y2="141.88" stroke="#333" stroke-width="1.0"/>
<circle cx="417.94" cy="146.73" r="0.85" fill="#1a1a1a"/>
<circle cx="420.22" cy="145.69" r="0.85" fill="#1a1a1a"/>
<circle cx="419.67" cy="141.96" r="0.85" fill="#1a1a1a"/>
<circle cx="419.01" cy="145.08" r="0.85" fill="#1a1a1a"/>
<circle cx="417.61" cy="149.49" r="0.85" fill="#1a1a1a"/>
<rect x="424.55" y="127.06" width="5.50" height="23.54" fill="#f39a1e"/>
<line x1="427.30" y1="127.06" x2="427.30" y2="120.08" stroke="#333" stroke-width="1.0"/>
<line x1="426.30" y1="120.08" x2="428.30" y2="120.08" stroke="#333" stroke-width="1.0"/>
<circle cx="427.15" cy="134.36" r="0.85" fill="#1a1a1a"/>
<circle cx="426.70" cy="127.22" r="0.85" fill="#1a1a1a"/>
<circle cx="426.74" cy="130.71" r="0.85" fill="#1a1a1a"/>
<circle cx="428.33" cy="131.51" r="0.85" fill="#1a1a1a"/>
<circle cx="428.33" cy="137.52" r="0.85" fill="#1a1a1a"/>
<rect x="432.80" y="105.26" width="5.50" height="45.34" fill="#afc295"/>
<line x1="435.55" y1="105.26" x2="435.55" y2="78.22" stroke="#333" stroke-width="1.0"/>
<line x1="434.55" y1="78.22" x2="436.55" y2="78.22" stroke="#333" stroke-width="1.0"/>
<circle cx="434.40" cy="105.70" r="0.85" fill="#1a1a1a"/>
<circle cx="436.76" cy="139.66" r="0.85" fill="#1a1a1a"/>
<circle cx="434.91" cy="88.11" r="0.85" fill="#1a1a1a"/>
<circle cx="437.06" cy="88.37" r="0.85" fill="#1a1a1a"/>
<circle cx="435.82" cy="122.74" r="0.85" fill="#1a1a1a"/>
<line x1="382.60" y1="108.30" x2="427.50" y2="108.30" stroke="#777" stroke-width="1.2"/>
<polyline points="405.60,108 405.60,35.6 433.50,35.6 433.50,38.8" fill="none" stroke="#6a6a6a" stroke-width="1.1"/>
<circle cx="414.30" cy="30.90" r="1.15" fill="#231f20"/>
<circle cx="417.80" cy="30.90" r="1.15" fill="#231f20"/>
<circle cx="421.30" cy="30.90" r="1.15" fill="#231f20"/>
<circle cx="424.80" cy="30.90" r="1.15" fill="#231f20"/>
<text x="410.40" y="165.00" font-size="8.8" text-anchor="middle" font-weight="normal" fill="#231f20" stroke="#231f20" stroke-width="0.12">2</text>
<rect x="446.50" y="150.16" width="5.50" height="0.44" fill="#c8c8c8"/>
<line x1="449.25" y1="150.16" x2="449.25" y2="149.73" stroke="#333" stroke-width="1.0"/>
<line x1="448.25" y1="149.73" x2="450.25" y2="149.73" stroke="#333" stroke-width="1.0"/>
<circle cx="448.57" cy="149.68" r="0.85" fill="#1a1a1a"/>
<circle cx="447.88" cy="149.70" r="0.85" fill="#1a1a1a"/>
<circle cx="448.60" cy="149.70" r="0.85" fill="#1a1a1a"/>
<circle cx="450.57" cy="149.70" r="0.85" fill="#1a1a1a"/>
<circle cx="449.28" cy="149.70" r="0.85" fill="#1a1a1a"/>
<rect x="454.75" y="142.75" width="5.50" height="7.85" fill="#8f8fca"/>
<line x1="457.50" y1="142.75" x2="457.50" y2="136.65" stroke="#333" stroke-width="1.0"/>
<line x1="456.50" y1="136.65" x2="458.50" y2="136.65" stroke="#333" stroke-width="1.0"/>
<circle cx="456.56" cy="147.07" r="0.85" fill="#1a1a1a"/>
<circle cx="458.66" cy="133.14" r="0.85" fill="#1a1a1a"/>
<circle cx="458.44" cy="149.70" r="0.85" fill="#1a1a1a"/>
<circle cx="458.83" cy="134.48" r="0.85" fill="#1a1a1a"/>
<circle cx="457.65" cy="133.85" r="0.85" fill="#1a1a1a"/>
<rect x="463.00" y="147.11" width="5.50" height="3.49" fill="#bb0a24"/>
<line x1="465.75" y1="147.11" x2="465.75" y2="143.62" stroke="#333" stroke-width="1.0"/>
<line x1="464.75" y1="143.62" x2="466.75" y2="143.62" stroke="#333" stroke-width="1.0"/>
<circle cx="466.45" cy="146.92" r="0.85" fill="#1a1a1a"/>
<circle cx="465.60" cy="146.13" r="0.85" fill="#1a1a1a"/>
<circle cx="465.10" cy="147.19" r="0.85" fill="#1a1a1a"/>
<circle cx="464.39" cy="142.60" r="0.85" fill="#1a1a1a"/>
<circle cx="465.67" cy="148.58" r="0.85" fill="#1a1a1a"/>
<rect x="471.25" y="138.39" width="5.50" height="12.21" fill="#c66a1e"/>
<line x1="474.00" y1="138.39" x2="474.00" y2="130.54" stroke="#333" stroke-width="1.0"/>
<line x1="473.00" y1="130.54" x2="475.00" y2="130.54" stroke="#333" stroke-width="1.0"/>
<circle cx="473.53" cy="136.76" r="0.85" fill="#1a1a1a"/>
<circle cx="475.44" cy="134.97" r="0.85" fill="#1a1a1a"/>
<circle cx="473.27" cy="149.45" r="0.85" fill="#1a1a1a"/>
<circle cx="474.17" cy="135.06" r="0.85" fill="#1a1a1a"/>
<circle cx="473.68" cy="133.43" r="0.85" fill="#1a1a1a"/>
<rect x="479.50" y="145.37" width="5.50" height="5.23" fill="#3ba63b"/>
<line x1="482.25" y1="145.37" x2="482.25" y2="138.39" stroke="#333" stroke-width="1.0"/>
<line x1="481.25" y1="138.39" x2="483.25" y2="138.39" stroke="#333" stroke-width="1.0"/>
<circle cx="481.37" cy="147.22" r="0.85" fill="#1a1a1a"/>
<circle cx="483.48" cy="148.60" r="0.85" fill="#1a1a1a"/>
<circle cx="483.48" cy="140.94" r="0.85" fill="#1a1a1a"/>
<circle cx="483.75" cy="145.45" r="0.85" fill="#1a1a1a"/>
<circle cx="481.32" cy="142.09" r="0.85" fill="#1a1a1a"/>
<rect x="487.75" y="126.18" width="5.50" height="24.42" fill="#f39a1e"/>
<line x1="490.50" y1="126.18" x2="490.50" y2="114.85" stroke="#333" stroke-width="1.0"/>
<line x1="489.50" y1="114.85" x2="491.50" y2="114.85" stroke="#333" stroke-width="1.0"/>
<circle cx="489.26" cy="127.91" r="0.85" fill="#1a1a1a"/>
<circle cx="489.71" cy="123.75" r="0.85" fill="#1a1a1a"/>
<circle cx="489.77" cy="129.92" r="0.85" fill="#1a1a1a"/>
<circle cx="491.26" cy="108.05" r="0.85" fill="#1a1a1a"/>
<circle cx="490.24" cy="117.15" r="0.85" fill="#1a1a1a"/>
<rect x="496.00" y="98.28" width="5.50" height="52.32" fill="#afc295"/>
<line x1="498.75" y1="98.28" x2="498.75" y2="84.33" stroke="#333" stroke-width="1.0"/>
<line x1="497.75" y1="84.33" x2="499.75" y2="84.33" stroke="#333" stroke-width="1.0"/>
<circle cx="498.38" cy="85.16" r="0.85" fill="#1a1a1a"/>
<circle cx="498.26" cy="106.16" r="0.85" fill="#1a1a1a"/>
<circle cx="500.16" cy="107.64" r="0.85" fill="#1a1a1a"/>
<circle cx="497.62" cy="102.13" r="0.85" fill="#1a1a1a"/>
<circle cx="499.85" cy="80.59" r="0.85" fill="#1a1a1a"/>
<line x1="446.50" y1="108.30" x2="490.00" y2="108.30" stroke="#777" stroke-width="1.2"/>
<polyline points="468.00,108 468.00,35.6 495.60,35.6 495.60,38.8" fill="none" stroke="#6a6a6a" stroke-width="1.1"/>
<circle cx="476.55" cy="30.90" r="1.15" fill="#231f20"/>
<circle cx="480.05" cy="30.90" r="1.15" fill="#231f20"/>
<circle cx="483.55" cy="30.90" r="1.15" fill="#231f20"/>
<circle cx="487.05" cy="30.90" r="1.15" fill="#231f20"/>
<text x="473.60" y="165.00" font-size="8.8" text-anchor="middle" font-weight="normal" fill="#231f20" stroke="#231f20" stroke-width="0.12">4</text>
<line x1="316.50" y1="150.60" x2="504.60" y2="150.60" stroke="#231f20" stroke-width="1.3"/>
<line x1="347.40" y1="150.60" x2="347.40" y2="153.60" stroke="#231f20" stroke-width="1.0"/>
<line x1="410.40" y1="150.60" x2="410.40" y2="153.60" stroke="#231f20" stroke-width="1.0"/>
<line x1="473.60" y1="150.60" x2="473.60" y2="153.60" stroke="#231f20" stroke-width="1.0"/>
<text x="289.00" y="94.30" font-size="10.6" text-anchor="middle" font-weight="normal" fill="#231f20" stroke="#231f20" stroke-width="0.4" textLength="60" lengthAdjust="spacingAndGlyphs" transform="rotate(-90 289.00 94.30)">No. LSKs/µL blood</text>
<text x="411.70" y="179.60" font-size="10.6" text-anchor="middle" font-weight="normal" fill="#231f20" stroke="#231f20" stroke-width="0.4" textLength="40.8" lengthAdjust="spacingAndGlyphs">Time (hours)</text>
<rect x="76.00" y="187.10" width="16.00" height="4.60" fill="#c8c8c8"/>
<text x="96.00" y="192.30" font-size="8.1" text-anchor="start" font-weight="normal" fill="#231f20" stroke="#231f20" stroke-width="0.12">6 mg/kg SLU-2609 (VLA-4)</text>
<rect x="76.00" y="199.10" width="16.00" height="4.60" fill="#8f8fca"/>
<text x="96.00" y="204.30" font-size="8.1" text-anchor="start" font-weight="normal" fill="#231f20" stroke="#231f20" stroke-width="0.12">5 mg/kg plerixafor (CXCR4)</text>
<rect x="76.00" y="211.10" width="16.00" height="4.60" fill="#bb0a24"/>
<text x="96.00" y="216.30" font-size="8.1" text-anchor="start" font-weight="normal" fill="#231f20" stroke="#231f20" stroke-width="0.12">2.5 mg/kg tGro-β (CXCR2)</text>
<rect x="203.90" y="187.20" width="16.00" height="4.60" fill="#c66a1e"/>
<text x="223.90" y="192.40" font-size="8.1" text-anchor="start" font-weight="normal" fill="#231f20" stroke="#231f20" stroke-width="0.12">SLU-2609 + plerixafor</text>
<rect x="203.90" y="199.50" width="16.00" height="4.60" fill="#3ba63b"/>
<text x="223.90" y="204.70" font-size="8.1" text-anchor="start" font-weight="normal" fill="#231f20" stroke="#231f20" stroke-width="0.12">SLU-2609 + tGro-β</text>
<rect x="312.40" y="187.20" width="16.00" height="4.60" fill="#f39a1e"/>
<text x="332.40" y="192.40" font-size="8.1" text-anchor="start" font-weight="normal" fill="#231f20" stroke="#231f20" stroke-width="0.12">Plerixafor + tGro-β</text>
<rect x="312.40" y="199.50" width="16.00" height="4.60" fill="#afc295"/>
<text x="332.40" y="204.70" font-size="8.1" text-anchor="start" font-weight="normal" fill="#231f20" stroke="#231f20" stroke-width="0.12">SLU-2609 + plerixafor + tGro-β</text>
<line x1="43.30" y1="296.28" x2="43.30" y2="406.60" stroke="#231f20" stroke-width="1.3"/>
<line x1="40.30" y1="406.00" x2="43.30" y2="406.00" stroke="#231f20" stroke-width="1.0"/>
<text x="36.10" y="408.95" font-size="8.2" text-anchor="end" font-weight="normal" fill="#231f20" stroke="#231f20" stroke-width="0.12">0</text>
<line x1="40.30" y1="370.36" x2="43.30" y2="370.36" stroke="#231f20" stroke-width="1.0"/>
<text x="36.10" y="373.31" font-size="8.2" text-anchor="end" font-weight="normal" fill="#231f20" stroke="#231f20" stroke-width="0.12">20</text>
<line x1="40.30" y1="334.72" x2="43.30" y2="334.72" stroke="#231f20" stroke-width="1.0"/>
<text x="36.10" y="337.67" font-size="8.2" text-anchor="end" font-weight="normal" fill="#231f20" stroke="#231f20" stroke-width="0.12">40</text>
<line x1="40.30" y1="299.08" x2="43.30" y2="299.08" stroke="#231f20" stroke-width="1.0"/>
<text x="36.10" y="302.03" font-size="8.2" text-anchor="end" font-weight="normal" fill="#231f20" stroke="#231f20" stroke-width="0.12">60</text>
<rect x="47.20" y="365.01" width="6.30" height="40.99" fill="#afc295"/>
<line x1="50.35" y1="365.01" x2="50.35" y2="347.91" stroke="#333" stroke-width="1.0"/>
<line x1="49.15" y1="347.91" x2="51.55" y2="347.91" stroke="#333" stroke-width="1.0"/>
<circle cx="49.37" cy="364.55" r="0.85" fill="#1a1a1a"/>
<circle cx="50.00" cy="363.48" r="0.85" fill="#1a1a1a"/>
<circle cx="50.16" cy="376.55" r="0.85" fill="#1a1a1a"/>
<circle cx="51.64" cy="393.69" r="0.85" fill="#1a1a1a"/>
<circle cx="48.69" cy="356.48" r="0.85" fill="#1a1a1a"/>
<circle cx="51.72" cy="388.73" r="0.85" fill="#1a1a1a"/>
<circle cx="50.26" cy="369.89" r="0.85" fill="#1a1a1a"/>
<circle cx="49.97" cy="364.77" r="0.85" fill="#1a1a1a"/>
<circle cx="51.83" cy="364.86" r="0.85" fill="#1a1a1a"/>
<circle cx="51.99" cy="378.86" r="0.85" fill="#1a1a1a"/>
<rect x="57.20" y="382.83" width="6.30" height="23.17" fill="#3aa6df"/>
<line x1="60.35" y1="382.83" x2="60.35" y2="378.38" stroke="#333" stroke-width="1.0"/>
<line x1="59.15" y1="378.38" x2="61.55" y2="378.38" stroke="#333" stroke-width="1.0"/>
<circle cx="59.48" cy="375.82" r="0.85" fill="#1a1a1a"/>
<circle cx="60.43" cy="384.63" r="0.85" fill="#1a1a1a"/>
<circle cx="60.98" cy="384.30" r="0.85" fill="#1a1a1a"/>
<circle cx="60.86" cy="388.82" r="0.85" fill="#1a1a1a"/>
<circle cx="61.27" cy="380.53" r="0.85" fill="#1a1a1a"/>
<circle cx="58.75" cy="377.94" r="0.85" fill="#1a1a1a"/>
<circle cx="61.33" cy="384.18" r="0.85" fill="#1a1a1a"/>
<rect x="74.10" y="365.01" width="6.30" height="40.99" fill="#afc295"/>
<line x1="77.25" y1="365.01" x2="77.25" y2="341.85" stroke="#333" stroke-width="1.0"/>
<line x1="76.05" y1="341.85" x2="78.45" y2="341.85" stroke="#333" stroke-width="1.0"/>
<circle cx="77.75" cy="370.13" r="0.85" fill="#1a1a1a"/>
<circle cx="76.57" cy="405.10" r="0.85" fill="#1a1a1a"/>
<circle cx="77.72" cy="376.03" r="0.85" fill="#1a1a1a"/>
<circle cx="77.94" cy="376.45" r="0.85" fill="#1a1a1a"/>
<circle cx="77.33" cy="371.08" r="0.85" fill="#1a1a1a"/>
<circle cx="77.54" cy="370.17" r="0.85" fill="#1a1a1a"/>
<circle cx="77.60" cy="353.70" r="0.85" fill="#1a1a1a"/>
<rect x="84.00" y="324.03" width="6.30" height="81.97" fill="#3aa6df"/>
<line x1="87.15" y1="324.03" x2="87.15" y2="312.44" stroke="#333" stroke-width="1.0"/>
<line x1="85.95" y1="312.44" x2="88.35" y2="312.44" stroke="#333" stroke-width="1.0"/>
<circle cx="85.45" cy="328.82" r="0.85" fill="#1a1a1a"/>
<circle cx="88.74" cy="320.34" r="0.85" fill="#1a1a1a"/>
<circle cx="87.65" cy="335.01" r="0.85" fill="#1a1a1a"/>
<circle cx="86.23" cy="332.85" r="0.85" fill="#1a1a1a"/>
<circle cx="86.27" cy="316.13" r="0.85" fill="#1a1a1a"/>
<circle cx="86.48" cy="339.81" r="0.85" fill="#1a1a1a"/>
<circle cx="85.49" cy="320.04" r="0.85" fill="#1a1a1a"/>
<line x1="42.70" y1="406.00" x2="93.10" y2="406.00" stroke="#231f20" stroke-width="1.3"/>
<line x1="55.20" y1="406.00" x2="55.20" y2="409.00" stroke="#231f20" stroke-width="1.0"/>
<line x1="81.90" y1="406.00" x2="81.90" y2="409.00" stroke="#231f20" stroke-width="1.0"/>
<polyline points="50.30,333.90 50.30,330.50 60.30,330.50 60.30,333.90" fill="none" stroke="#555" stroke-width="0.9"/>
<circle cx="55.30" cy="325.90" r="1.15" fill="#231f20"/>
<polyline points="60.30,316.90 60.30,313.50 77.30,313.50 77.30,316.90" fill="none" stroke="#555" stroke-width="0.9"/>
<circle cx="68.80" cy="309.30" r="1.15" fill="#231f20"/>
<polyline points="77.30,300.90 77.30,297.50 87.20,297.50 87.20,300.90" fill="none" stroke="#555" stroke-width="0.9"/>
<circle cx="76.85" cy="293.10" r="1.15" fill="#231f20"/>
<circle cx="80.45" cy="293.10" r="1.15" fill="#231f20"/>
<circle cx="84.05" cy="293.10" r="1.15" fill="#231f20"/>
<circle cx="87.65" cy="293.10" r="1.15" fill="#231f20"/>
<polyline points="60.30,286.90 60.30,283.50 87.20,283.50 87.20,286.90" fill="none" stroke="#555" stroke-width="0.9"/>
<circle cx="68.35" cy="279.00" r="1.15" fill="#231f20"/>
<circle cx="71.95" cy="279.00" r="1.15" fill="#231f20"/>
<circle cx="75.55" cy="279.00" r="1.15" fill="#231f20"/>
<circle cx="79.15" cy="279.00" r="1.15" fill="#231f20"/>
<polyline points="50.30,271.90 50.30,268.50 87.20,268.50 87.20,271.90" fill="none" stroke="#555" stroke-width="0.9"/>
<circle cx="63.35" cy="264.30" r="1.15" fill="#231f20"/>
<circle cx="66.95" cy="264.30" r="1.15" fill="#231f20"/>
<circle cx="70.55" cy="264.30" r="1.15" fill="#231f20"/>
<circle cx="74.15" cy="264.30" r="1.15" fill="#231f20"/>
<text x="19.00" y="350.80" font-size="10.6" text-anchor="middle" font-weight="normal" fill="#231f20" stroke="#231f20" stroke-width="0.4" textLength="85" lengthAdjust="spacingAndGlyphs" transform="rotate(-90 19.00 350.80)">No. CFUs/mL blood (×10<tspan baseline-shift="super" font-size="7">3</tspan>)</text>
<text x="58.50" y="414.50" font-size="8.4" text-anchor="end" font-weight="normal" fill="#231f20" stroke="#231f20" stroke-width="0.12" transform="rotate(-45 58.50 414.50)">Wild-type</text>
<text x="86.00" y="414.50" font-size="8.4" text-anchor="end" font-weight="normal" fill="#231f20" stroke="#231f20" stroke-width="0.12" transform="rotate(-45 86.00 414.50)">Asplenic</text>
<line x1="167.70" y1="296.72" x2="167.70" y2="406.60" stroke="#231f20" stroke-width="1.3"/>
<line x1="164.70" y1="406.00" x2="167.70" y2="406.00" stroke="#231f20" stroke-width="1.0"/>
<text x="161.20" y="408.95" font-size="8.2" text-anchor="end" font-weight="normal" fill="#231f20" stroke="#231f20" stroke-width="0.12">0</text>
<line x1="164.70" y1="379.38" x2="167.70" y2="379.38" stroke="#231f20" stroke-width="1.0"/>
<text x="161.20" y="382.33" font-size="8.2" text-anchor="end" font-weight="normal" fill="#231f20" stroke="#231f20" stroke-width="0.12">20</text>
<line x1="164.70" y1="352.76" x2="167.70" y2="352.76" stroke="#231f20" stroke-width="1.0"/>
<text x="161.20" y="355.71" font-size="8.2" text-anchor="end" font-weight="normal" fill="#231f20" stroke="#231f20" stroke-width="0.12">40</text>
<line x1="164.70" y1="326.14" x2="167.70" y2="326.14" stroke="#231f20" stroke-width="1.0"/>
<text x="161.20" y="329.09" font-size="8.2" text-anchor="end" font-weight="normal" fill="#231f20" stroke="#231f20" stroke-width="0.12">60</text>
<line x1="164.70" y1="299.52" x2="167.70" y2="299.52" stroke="#231f20" stroke-width="1.0"/>
<text x="161.20" y="302.47" font-size="8.2" text-anchor="end" font-weight="normal" fill="#231f20" stroke="#231f20" stroke-width="0.12">80</text>
<rect x="171.70" y="379.38" width="6.30" height="26.62" fill="#afc295"/>
<line x1="174.85" y1="379.38" x2="174.85" y2="370.06" stroke="#333" stroke-width="1.0"/>
<line x1="173.65" y1="370.06" x2="176.05" y2="370.06" stroke="#333" stroke-width="1.0"/>
<circle cx="174.57" cy="366.82" r="0.85" fill="#1a1a1a"/>
<circle cx="174.01" cy="379.51" r="0.85" fill="#1a1a1a"/>
<circle cx="173.90" cy="369.90" r="0.85" fill="#1a1a1a"/>
<circle cx="173.24" cy="364.47" r="0.85" fill="#1a1a1a"/>
<circle cx="175.48" cy="374.78" r="0.85" fill="#1a1a1a"/>
<rect x="181.60" y="394.69" width="6.30" height="11.31" fill="#3aa6df"/>
<line x1="184.75" y1="394.69" x2="184.75" y2="393.36" stroke="#333" stroke-width="1.0"/>
<line x1="183.55" y1="393.36" x2="185.95" y2="393.36" stroke="#333" stroke-width="1.0"/>
<circle cx="183.70" cy="395.75" r="0.85" fill="#1a1a1a"/>
<circle cx="184.77" cy="395.26" r="0.85" fill="#1a1a1a"/>
<circle cx="183.73" cy="392.81" r="0.85" fill="#1a1a1a"/>
<circle cx="185.86" cy="395.70" r="0.85" fill="#1a1a1a"/>
<rect x="198.80" y="380.71" width="6.30" height="25.29" fill="#afc295"/>
<line x1="201.95" y1="380.71" x2="201.95" y2="360.75" stroke="#333" stroke-width="1.0"/>
<line x1="200.75" y1="360.75" x2="203.15" y2="360.75" stroke="#333" stroke-width="1.0"/>
<circle cx="201.02" cy="377.79" r="0.85" fill="#1a1a1a"/>
<circle cx="201.24" cy="386.13" r="0.85" fill="#1a1a1a"/>
<circle cx="203.52" cy="405.10" r="0.85" fill="#1a1a1a"/>
<circle cx="200.99" cy="369.14" r="0.85" fill="#1a1a1a"/>
<circle cx="201.66" cy="381.02" r="0.85" fill="#1a1a1a"/>
<rect x="209.10" y="338.12" width="6.30" height="67.88" fill="#3aa6df"/>
<line x1="212.25" y1="338.12" x2="212.25" y2="319.49" stroke="#333" stroke-width="1.0"/>
<line x1="211.05" y1="319.49" x2="213.45" y2="319.49" stroke="#333" stroke-width="1.0"/>
<circle cx="211.02" cy="317.37" r="0.85" fill="#1a1a1a"/>
<circle cx="211.88" cy="308.30" r="0.85" fill="#1a1a1a"/>
<circle cx="211.01" cy="348.58" r="0.85" fill="#1a1a1a"/>
<circle cx="210.70" cy="382.23" r="0.85" fill="#1a1a1a"/>
<circle cx="213.63" cy="353.70" r="0.85" fill="#1a1a1a"/>
<line x1="167.10" y1="406.00" x2="218.30" y2="406.00" stroke="#231f20" stroke-width="1.3"/>
<line x1="179.30" y1="406.00" x2="179.30" y2="409.00" stroke="#231f20" stroke-width="1.0"/>
<line x1="206.60" y1="406.00" x2="206.60" y2="409.00" stroke="#231f20" stroke-width="1.0"/>
<polyline points="202.00,301.90 202.00,298.50 212.30,298.50 212.30,301.90" fill="none" stroke="#555" stroke-width="0.9"/>
<circle cx="201.75" cy="293.60" r="1.15" fill="#231f20"/>
<circle cx="205.35" cy="293.60" r="1.15" fill="#231f20"/>
<circle cx="208.95" cy="293.60" r="1.15" fill="#231f20"/>
<circle cx="212.55" cy="293.60" r="1.15" fill="#231f20"/>
<polyline points="184.80,286.90 184.80,283.50 212.30,283.50 212.30,286.90" fill="none" stroke="#555" stroke-width="0.9"/>
<circle cx="193.15" cy="279.00" r="1.15" fill="#231f20"/>
<circle cx="196.75" cy="279.00" r="1.15" fill="#231f20"/>
<circle cx="200.35" cy="279.00" r="1.15" fill="#231f20"/>
<circle cx="203.95" cy="279.00" r="1.15" fill="#231f20"/>
<polyline points="174.90,272.90 174.90,269.50 212.30,269.50 212.30,272.90" fill="none" stroke="#555" stroke-width="0.9"/>
<circle cx="190.00" cy="264.50" r="1.15" fill="#231f20"/>
<circle cx="193.60" cy="264.50" r="1.15" fill="#231f20"/>
<circle cx="197.20" cy="264.50" r="1.15" fill="#231f20"/>
<text x="143.50" y="351.30" font-size="10.6" text-anchor="middle" font-weight="normal" fill="#231f20" stroke="#231f20" stroke-width="0.4" textLength="60" lengthAdjust="spacingAndGlyphs" transform="rotate(-90 143.50 351.30)">No. LSKs/µL blood</text>
<text x="182.50" y="414.50" font-size="8.4" text-anchor="end" font-weight="normal" fill="#231f20" stroke="#231f20" stroke-width="0.12" transform="rotate(-45 182.50 414.50)">Wild-type</text>
<text x="210.50" y="414.50" font-size="8.4" text-anchor="end" font-weight="normal" fill="#231f20" stroke="#231f20" stroke-width="0.12" transform="rotate(-45 210.50 414.50)">Asplenic</text>
<rect x="70.00" y="450.80" width="16.00" height="4.60" fill="#afc295"/>
<text x="90.00" y="456.00" font-size="8.1" text-anchor="start" font-weight="normal" fill="#231f20" stroke="#231f20" stroke-width="0.12">SLU-2609 + plerixafor + tGro-β</text>
<rect x="70.00" y="462.50" width="16.00" height="4.60" fill="#3aa6df"/>
<text x="90.00" y="467.70" font-size="8.1" text-anchor="start" font-weight="normal" fill="#231f20" stroke="#231f20" stroke-width="0.12">G-CSF</text>
<line x1="295.90" y1="293.30" x2="295.90" y2="406.50" stroke="#231f20" stroke-width="1.3"/>
<line x1="292.90" y1="405.90" x2="295.90" y2="405.90" stroke="#231f20" stroke-width="1.0"/>
<text x="289.30" y="408.85" font-size="8.2" text-anchor="end" font-weight="normal" fill="#231f20" stroke="#231f20" stroke-width="0.12">0</text>
<line x1="292.90" y1="378.45" x2="295.90" y2="378.45" stroke="#231f20" stroke-width="1.0"/>
<text x="289.30" y="381.40" font-size="8.2" text-anchor="end" font-weight="normal" fill="#231f20" stroke="#231f20" stroke-width="0.12">5</text>
<line x1="292.90" y1="351.00" x2="295.90" y2="351.00" stroke="#231f20" stroke-width="1.0"/>
<text x="289.30" y="353.95" font-size="8.2" text-anchor="end" font-weight="normal" fill="#231f20" stroke="#231f20" stroke-width="0.12">10</text>
<line x1="292.90" y1="323.55" x2="295.90" y2="323.55" stroke="#231f20" stroke-width="1.0"/>
<text x="289.30" y="326.50" font-size="8.2" text-anchor="end" font-weight="normal" fill="#231f20" stroke="#231f20" stroke-width="0.12">15</text>
<line x1="292.90" y1="296.10" x2="295.90" y2="296.10" stroke="#231f20" stroke-width="1.0"/>
<text x="289.30" y="299.05" font-size="8.2" text-anchor="end" font-weight="normal" fill="#231f20" stroke="#231f20" stroke-width="0.12">20</text>
<rect x="300.20" y="387.78" width="8.25" height="18.12" fill="#c66a1e"/>
<line x1="304.32" y1="387.78" x2="304.32" y2="381.19" stroke="#333" stroke-width="1.0"/>
<line x1="302.82" y1="381.19" x2="305.82" y2="381.19" stroke="#333" stroke-width="1.0"/>
<circle cx="306.07" cy="389.97" r="0.85" fill="#1a1a1a"/>
<circle cx="306.28" cy="385.56" r="0.85" fill="#1a1a1a"/>
<circle cx="303.55" cy="377.24" r="0.85" fill="#1a1a1a"/>
<circle cx="305.44" cy="393.26" r="0.85" fill="#1a1a1a"/>
<circle cx="302.20" cy="400.56" r="0.85" fill="#1a1a1a"/>
<circle cx="303.75" cy="384.82" r="0.85" fill="#1a1a1a"/>
<circle cx="303.56" cy="382.82" r="0.85" fill="#1a1a1a"/>
<rect x="312.70" y="400.41" width="8.25" height="5.49" fill="#3ba63b"/>
<line x1="316.82" y1="400.41" x2="316.82" y2="398.21" stroke="#333" stroke-width="1.0"/>
<line x1="315.32" y1="398.21" x2="318.32" y2="398.21" stroke="#333" stroke-width="1.0"/>
<circle cx="315.83" cy="400.48" r="0.85" fill="#1a1a1a"/>
<circle cx="316.15" cy="400.54" r="0.85" fill="#1a1a1a"/>
<circle cx="318.93" cy="401.39" r="0.85" fill="#1a1a1a"/>
<circle cx="315.50" cy="400.13" r="0.85" fill="#1a1a1a"/>
<circle cx="318.29" cy="398.13" r="0.85" fill="#1a1a1a"/>
<rect x="325.20" y="393.27" width="8.25" height="12.63" fill="#f39a1e"/>
<line x1="329.32" y1="393.27" x2="329.32" y2="390.53" stroke="#333" stroke-width="1.0"/>
<line x1="327.82" y1="390.53" x2="330.82" y2="390.53" stroke="#333" stroke-width="1.0"/>
<circle cx="329.02" cy="396.87" r="0.85" fill="#1a1a1a"/>
<circle cx="328.75" cy="395.94" r="0.85" fill="#1a1a1a"/>
<circle cx="331.23" cy="394.13" r="0.85" fill="#1a1a1a"/>
<circle cx="331.13" cy="394.10" r="0.85" fill="#1a1a1a"/>
<circle cx="327.19" cy="395.48" r="0.85" fill="#1a1a1a"/>
<circle cx="330.54" cy="389.45" r="0.85" fill="#1a1a1a"/>
<rect x="337.70" y="352.10" width="8.25" height="53.80" fill="#afc295"/>
<line x1="341.82" y1="352.10" x2="341.82" y2="323.55" stroke="#333" stroke-width="1.0"/>
<line x1="340.32" y1="323.55" x2="343.32" y2="323.55" stroke="#333" stroke-width="1.0"/>
<circle cx="339.74" cy="377.06" r="0.85" fill="#1a1a1a"/>
<circle cx="343.73" cy="361.11" r="0.85" fill="#1a1a1a"/>
<circle cx="340.72" cy="354.10" r="0.85" fill="#1a1a1a"/>
<circle cx="341.09" cy="351.16" r="0.85" fill="#1a1a1a"/>
<circle cx="340.79" cy="306.42" r="0.85" fill="#1a1a1a"/>
<circle cx="340.75" cy="386.44" r="0.85" fill="#1a1a1a"/>
<circle cx="342.81" cy="342.75" r="0.85" fill="#1a1a1a"/>
<circle cx="339.57" cy="343.73" r="0.85" fill="#1a1a1a"/>
<rect x="350.20" y="389.43" width="8.25" height="16.47" fill="#3aa6df"/>
<line x1="354.32" y1="389.43" x2="354.32" y2="382.84" stroke="#333" stroke-width="1.0"/>
<line x1="352.82" y1="382.84" x2="355.82" y2="382.84" stroke="#333" stroke-width="1.0"/>
<circle cx="355.49" cy="393.78" r="0.85" fill="#1a1a1a"/>
<circle cx="356.34" cy="396.70" r="0.85" fill="#1a1a1a"/>
<circle cx="352.17" cy="385.22" r="0.85" fill="#1a1a1a"/>
<circle cx="356.40" cy="390.11" r="0.85" fill="#1a1a1a"/>
<circle cx="356.38" cy="396.13" r="0.85" fill="#1a1a1a"/>
<circle cx="354.01" cy="386.02" r="0.85" fill="#1a1a1a"/>
<circle cx="354.30" cy="392.38" r="0.85" fill="#1a1a1a"/>
<circle cx="355.70" cy="392.82" r="0.85" fill="#1a1a1a"/>
<line x1="295.30" y1="405.90" x2="362.50" y2="405.90" stroke="#231f20" stroke-width="1.3"/>
<line x1="330.00" y1="405.90" x2="330.00" y2="408.90" stroke="#231f20" stroke-width="1.0"/>
<polyline points="304.60,366.90 304.60,363.50 317.10,363.50 317.10,366.90" fill="none" stroke="#555" stroke-width="0.9"/>
<circle cx="310.85" cy="358.20" r="1.15" fill="#231f20"/>
<polyline points="342.10,311.90 342.10,308.50 354.60,308.50 354.60,311.90" fill="none" stroke="#555" stroke-width="0.9"/>
<circle cx="342.95" cy="303.80" r="1.15" fill="#231f20"/>
<circle cx="346.55" cy="303.80" r="1.15" fill="#231f20"/>
<circle cx="350.15" cy="303.80" r="1.15" fill="#231f20"/>
<circle cx="353.75" cy="303.80" r="1.15" fill="#231f20"/>
<polyline points="329.60,296.90 329.60,293.50 342.10,293.50 342.10,296.90" fill="none" stroke="#555" stroke-width="0.9"/>
<circle cx="330.45" cy="288.90" r="1.15" fill="#231f20"/>
<circle cx="334.05" cy="288.90" r="1.15" fill="#231f20"/>
<circle cx="337.65" cy="288.90" r="1.15" fill="#231f20"/>
<circle cx="341.25" cy="288.90" r="1.15" fill="#231f20"/>
<polyline points="317.10,281.90 317.10,278.50 342.10,278.50 342.10,281.90" fill="none" stroke="#555" stroke-width="0.9"/>
<circle cx="324.20" cy="273.20" r="1.15" fill="#231f20"/>
<circle cx="327.80" cy="273.20" r="1.15" fill="#231f20"/>
<circle cx="331.40" cy="273.20" r="1.15" fill="#231f20"/>
<circle cx="335.00" cy="273.20" r="1.15" fill="#231f20"/>
<polyline points="304.60,265.90 304.60,262.50 342.10,262.50 342.10,265.90" fill="none" stroke="#555" stroke-width="0.9"/>
<circle cx="317.95" cy="257.70" r="1.15" fill="#231f20"/>
<circle cx="321.55" cy="257.70" r="1.15" fill="#231f20"/>
<circle cx="325.15" cy="257.70" r="1.15" fill="#231f20"/>
<circle cx="328.75" cy="257.70" r="1.15" fill="#231f20"/>
<text x="330.00" y="421.00" font-size="8.8" text-anchor="middle" font-weight="normal" fill="#231f20" stroke="#231f20" stroke-width="0.12">4</text>
<text x="272.20" y="352.80" font-size="10.6" text-anchor="middle" font-weight="normal" fill="#231f20" stroke="#231f20" stroke-width="0.4" textLength="93" lengthAdjust="spacingAndGlyphs" transform="rotate(-90 272.20 352.80)">No. CFUs/mL blood (×10<tspan baseline-shift="super" font-size="7">3</tspan>)</text>
<text x="329.10" y="435.40" font-size="10.6" text-anchor="middle" font-weight="normal" fill="#231f20" stroke="#231f20" stroke-width="0.4" textLength="40.8" lengthAdjust="spacingAndGlyphs">Time (hours)</text>
<line x1="436.70" y1="293.30" x2="436.70" y2="406.50" stroke="#231f20" stroke-width="1.3"/>
<line x1="433.70" y1="405.90" x2="436.70" y2="405.90" stroke="#231f20" stroke-width="1.0"/>
<text x="430.50" y="408.85" font-size="8.2" text-anchor="end" font-weight="normal" fill="#231f20" stroke="#231f20" stroke-width="0.12">0</text>
<line x1="433.70" y1="369.30" x2="436.70" y2="369.30" stroke="#231f20" stroke-width="1.0"/>
<text x="430.50" y="372.25" font-size="8.2" text-anchor="end" font-weight="normal" fill="#231f20" stroke="#231f20" stroke-width="0.12">10</text>
<line x1="433.70" y1="332.70" x2="436.70" y2="332.70" stroke="#231f20" stroke-width="1.0"/>
<text x="430.50" y="335.65" font-size="8.2" text-anchor="end" font-weight="normal" fill="#231f20" stroke="#231f20" stroke-width="0.12">20</text>
<line x1="433.70" y1="296.10" x2="436.70" y2="296.10" stroke="#231f20" stroke-width="1.0"/>
<text x="430.50" y="299.05" font-size="8.2" text-anchor="end" font-weight="normal" fill="#231f20" stroke="#231f20" stroke-width="0.12">30</text>
<rect x="441.00" y="384.67" width="8.25" height="21.23" fill="#c66a1e"/>
<line x1="445.12" y1="384.67" x2="445.12" y2="377.35" stroke="#333" stroke-width="1.0"/>
<line x1="443.62" y1="377.35" x2="446.62" y2="377.35" stroke="#333" stroke-width="1.0"/>
<circle cx="446.21" cy="382.84" r="0.85" fill="#1a1a1a"/>
<circle cx="445.61" cy="389.68" r="0.85" fill="#1a1a1a"/>
<circle cx="444.34" cy="374.49" r="0.85" fill="#1a1a1a"/>
<circle cx="446.41" cy="382.03" r="0.85" fill="#1a1a1a"/>
<circle cx="443.21" cy="390.33" r="0.85" fill="#1a1a1a"/>
<rect x="453.50" y="399.31" width="8.25" height="6.59" fill="#3ba63b"/>
<line x1="457.62" y1="399.31" x2="457.62" y2="398.58" stroke="#333" stroke-width="1.0"/>
<line x1="456.12" y1="398.58" x2="459.12" y2="398.58" stroke="#333" stroke-width="1.0"/>
<circle cx="456.48" cy="399.70" r="0.85" fill="#1a1a1a"/>
<circle cx="455.65" cy="400.45" r="0.85" fill="#1a1a1a"/>
<circle cx="456.83" cy="400.20" r="0.85" fill="#1a1a1a"/>
<rect x="466.00" y="397.85" width="8.25" height="8.05" fill="#f39a1e"/>
<line x1="470.12" y1="397.85" x2="470.12" y2="391.99" stroke="#333" stroke-width="1.0"/>
<line x1="468.62" y1="391.99" x2="471.62" y2="391.99" stroke="#333" stroke-width="1.0"/>
<circle cx="472.30" cy="399.26" r="0.85" fill="#1a1a1a"/>
<circle cx="469.06" cy="405.00" r="0.85" fill="#1a1a1a"/>
<circle cx="468.24" cy="388.48" r="0.85" fill="#1a1a1a"/>
<circle cx="471.08" cy="402.94" r="0.85" fill="#1a1a1a"/>
<rect x="478.50" y="359.05" width="8.25" height="46.85" fill="#afc295"/>
<line x1="482.62" y1="359.05" x2="482.62" y2="329.04" stroke="#333" stroke-width="1.0"/>
<line x1="481.12" y1="329.04" x2="484.12" y2="329.04" stroke="#333" stroke-width="1.0"/>
<circle cx="482.38" cy="377.12" r="0.85" fill="#1a1a1a"/>
<circle cx="483.17" cy="361.83" r="0.85" fill="#1a1a1a"/>
<circle cx="483.42" cy="386.97" r="0.85" fill="#1a1a1a"/>
<circle cx="483.37" cy="358.39" r="0.85" fill="#1a1a1a"/>
<circle cx="480.91" cy="311.03" r="0.85" fill="#1a1a1a"/>
<rect x="491.00" y="399.31" width="8.25" height="6.59" fill="#3aa6df"/>
<line x1="495.12" y1="399.31" x2="495.12" y2="397.85" stroke="#333" stroke-width="1.0"/>
<line x1="493.62" y1="397.85" x2="496.62" y2="397.85" stroke="#333" stroke-width="1.0"/>
<circle cx="495.43" cy="399.91" r="0.85" fill="#1a1a1a"/>
<circle cx="494.55" cy="398.39" r="0.85" fill="#1a1a1a"/>
<circle cx="493.98" cy="399.25" r="0.85" fill="#1a1a1a"/>
<circle cx="493.97" cy="398.44" r="0.85" fill="#1a1a1a"/>
<line x1="436.10" y1="405.90" x2="503.80" y2="405.90" stroke="#231f20" stroke-width="1.3"/>
<line x1="470.00" y1="405.90" x2="470.00" y2="408.90" stroke="#231f20" stroke-width="1.0"/>
<polyline points="483.00,310.90 483.00,307.50 495.50,307.50 495.50,310.90" fill="none" stroke="#555" stroke-width="0.9"/>
<circle cx="485.65" cy="302.70" r="1.15" fill="#231f20"/>
<circle cx="489.25" cy="302.70" r="1.15" fill="#231f20"/>
<circle cx="492.85" cy="302.70" r="1.15" fill="#231f20"/>
<polyline points="470.50,295.90 470.50,292.50 483.00,292.50 483.00,295.90" fill="none" stroke="#555" stroke-width="0.9"/>
<circle cx="473.15" cy="287.20" r="1.15" fill="#231f20"/>
<circle cx="476.75" cy="287.20" r="1.15" fill="#231f20"/>
<circle cx="480.35" cy="287.20" r="1.15" fill="#231f20"/>
<polyline points="458.00,280.90 458.00,277.50 483.00,277.50 483.00,280.90" fill="none" stroke="#555" stroke-width="0.9"/>
<circle cx="466.90" cy="272.20" r="1.15" fill="#231f20"/>
<circle cx="470.50" cy="272.20" r="1.15" fill="#231f20"/>
<circle cx="474.10" cy="272.20" r="1.15" fill="#231f20"/>
<polyline points="445.50,263.90 445.50,260.50 483.00,260.50 483.00,263.90" fill="none" stroke="#555" stroke-width="0.9"/>
<circle cx="462.45" cy="256.00" r="1.15" fill="#231f20"/>
<circle cx="466.05" cy="256.00" r="1.15" fill="#231f20"/>
<text x="470.00" y="421.00" font-size="8.8" text-anchor="middle" font-weight="normal" fill="#231f20" stroke="#231f20" stroke-width="0.12">4</text>
<text x="413.00" y="349.80" font-size="10.6" text-anchor="middle" font-weight="normal" fill="#231f20" stroke="#231f20" stroke-width="0.4" textLength="61" lengthAdjust="spacingAndGlyphs" transform="rotate(-90 413.00 349.80)">No. LSKs/µL blood</text>
<text x="470.00" y="435.40" font-size="10.6" text-anchor="middle" font-weight="normal" fill="#231f20" stroke="#231f20" stroke-width="0.4" textLength="40.8" lengthAdjust="spacingAndGlyphs">Time (hours)</text>
<rect x="273.80" y="443.20" width="16.00" height="4.60" fill="#c66a1e"/>
<text x="293.80" y="448.40" font-size="8.1" text-anchor="start" font-weight="normal" fill="#231f20" stroke="#231f20" stroke-width="0.12">SLU-2609 + plerixafor</text>
<rect x="273.80" y="456.30" width="16.00" height="4.60" fill="#3ba63b"/>
<text x="293.80" y="461.50" font-size="8.1" text-anchor="start" font-weight="normal" fill="#231f20" stroke="#231f20" stroke-width="0.12">SLU-2609 + tGro-β</text>
<rect x="273.80" y="469.40" width="16.00" height="4.60" fill="#f39a1e"/>
<text x="293.80" y="474.60" font-size="8.1" text-anchor="start" font-weight="normal" fill="#231f20" stroke="#231f20" stroke-width="0.12">Plerixafor + tGro-β</text>
<rect x="381.30" y="443.20" width="16.00" height="4.60" fill="#afc295"/>
<text x="401.30" y="448.40" font-size="8.1" text-anchor="start" font-weight="normal" fill="#231f20" stroke="#231f20" stroke-width="0.12">SLU-2609 + plerixafor + tGro-β</text>
<rect x="381.30" y="456.30" width="16.00" height="4.60" fill="#3aa6df"/>
<text x="401.30" y="461.50" font-size="8.1" text-anchor="start" font-weight="normal" fill="#231f20" stroke="#231f20" stroke-width="0.12">G-CSF</text>
<line x1="145.40" y1="544.20" x2="145.40" y2="657.60" stroke="#231f20" stroke-width="1.3"/>
<line x1="142.40" y1="657.00" x2="145.40" y2="657.00" stroke="#231f20" stroke-width="1.0"/>
<text x="138.30" y="659.95" font-size="8.2" text-anchor="end" font-weight="normal" fill="#231f20" stroke="#231f20" stroke-width="0.12">0</text>
<line x1="142.40" y1="635.00" x2="145.40" y2="635.00" stroke="#231f20" stroke-width="1.0"/>
<text x="138.30" y="637.95" font-size="8.2" text-anchor="end" font-weight="normal" fill="#231f20" stroke="#231f20" stroke-width="0.12">5</text>
<line x1="142.40" y1="613.00" x2="145.40" y2="613.00" stroke="#231f20" stroke-width="1.0"/>
<text x="138.30" y="615.95" font-size="8.2" text-anchor="end" font-weight="normal" fill="#231f20" stroke="#231f20" stroke-width="0.12">10</text>
<line x1="142.40" y1="591.00" x2="145.40" y2="591.00" stroke="#231f20" stroke-width="1.0"/>
<text x="138.30" y="593.95" font-size="8.2" text-anchor="end" font-weight="normal" fill="#231f20" stroke="#231f20" stroke-width="0.12">15</text>
<line x1="142.40" y1="569.00" x2="145.40" y2="569.00" stroke="#231f20" stroke-width="1.0"/>
<text x="138.30" y="571.95" font-size="8.2" text-anchor="end" font-weight="normal" fill="#231f20" stroke="#231f20" stroke-width="0.12">20</text>
<line x1="142.40" y1="547.00" x2="145.40" y2="547.00" stroke="#231f20" stroke-width="1.0"/>
<text x="138.30" y="549.95" font-size="8.2" text-anchor="end" font-weight="normal" fill="#231f20" stroke="#231f20" stroke-width="0.12">25</text>
<rect x="150.00" y="625.32" width="8.25" height="31.68" fill="#c66a1e"/>
<line x1="154.12" y1="625.32" x2="154.12" y2="607.72" stroke="#333" stroke-width="1.0"/>
<line x1="152.62" y1="607.72" x2="155.62" y2="607.72" stroke="#333" stroke-width="1.0"/>
<circle cx="154.48" cy="644.09" r="0.85" fill="#1a1a1a"/>
<circle cx="153.34" cy="652.33" r="0.85" fill="#1a1a1a"/>
<circle cx="154.16" cy="597.16" r="0.85" fill="#1a1a1a"/>
<circle cx="152.91" cy="655.41" r="0.85" fill="#1a1a1a"/>
<circle cx="156.35" cy="633.60" r="0.85" fill="#1a1a1a"/>
<circle cx="152.32" cy="603.80" r="0.85" fill="#1a1a1a"/>
<circle cx="155.67" cy="597.16" r="0.85" fill="#1a1a1a"/>
<circle cx="156.01" cy="629.95" r="0.85" fill="#1a1a1a"/>
<circle cx="152.40" cy="638.11" r="0.85" fill="#1a1a1a"/>
<rect x="162.50" y="628.40" width="8.25" height="28.60" fill="#3ba63b"/>
<line x1="166.62" y1="628.40" x2="166.62" y2="604.20" stroke="#333" stroke-width="1.0"/>
<line x1="165.12" y1="604.20" x2="168.12" y2="604.20" stroke="#333" stroke-width="1.0"/>
<circle cx="165.22" cy="632.96" r="0.85" fill="#1a1a1a"/>
<circle cx="168.58" cy="656.10" r="0.85" fill="#1a1a1a"/>
<circle cx="166.05" cy="623.53" r="0.85" fill="#1a1a1a"/>
<circle cx="165.54" cy="644.25" r="0.85" fill="#1a1a1a"/>
<circle cx="167.89" cy="610.67" r="0.85" fill="#1a1a1a"/>
<circle cx="167.06" cy="638.11" r="0.85" fill="#1a1a1a"/>
<circle cx="167.17" cy="624.95" r="0.85" fill="#1a1a1a"/>
<circle cx="165.00" cy="632.62" r="0.85" fill="#1a1a1a"/>
<circle cx="165.28" cy="648.86" r="0.85" fill="#1a1a1a"/>
<rect x="175.00" y="650.84" width="8.25" height="6.16" fill="#f39a1e"/>
<line x1="179.12" y1="650.84" x2="179.12" y2="643.36" stroke="#333" stroke-width="1.0"/>
<line x1="177.62" y1="643.36" x2="180.62" y2="643.36" stroke="#333" stroke-width="1.0"/>
<circle cx="179.81" cy="650.56" r="0.85" fill="#1a1a1a"/>
<circle cx="177.78" cy="656.10" r="0.85" fill="#1a1a1a"/>
<circle cx="179.93" cy="656.10" r="0.85" fill="#1a1a1a"/>
<circle cx="177.70" cy="651.27" r="0.85" fill="#1a1a1a"/>
<circle cx="180.46" cy="649.11" r="0.85" fill="#1a1a1a"/>
<circle cx="179.34" cy="655.04" r="0.85" fill="#1a1a1a"/>
<circle cx="178.65" cy="653.71" r="0.85" fill="#1a1a1a"/>
<circle cx="179.35" cy="652.05" r="0.85" fill="#1a1a1a"/>
<rect x="187.50" y="597.16" width="8.25" height="59.84" fill="#afc295"/>
<line x1="191.62" y1="597.16" x2="191.62" y2="578.68" stroke="#333" stroke-width="1.0"/>
<line x1="190.12" y1="578.68" x2="193.12" y2="578.68" stroke="#333" stroke-width="1.0"/>
<circle cx="190.10" cy="592.50" r="0.85" fill="#1a1a1a"/>
<circle cx="192.51" cy="591.58" r="0.85" fill="#1a1a1a"/>
<circle cx="190.75" cy="585.71" r="0.85" fill="#1a1a1a"/>
<circle cx="193.68" cy="604.45" r="0.85" fill="#1a1a1a"/>
<circle cx="190.98" cy="588.95" r="0.85" fill="#1a1a1a"/>
<circle cx="191.25" cy="617.04" r="0.85" fill="#1a1a1a"/>
<circle cx="191.01" cy="634.06" r="0.85" fill="#1a1a1a"/>
<circle cx="190.25" cy="567.59" r="0.85" fill="#1a1a1a"/>
<circle cx="189.38" cy="595.62" r="0.85" fill="#1a1a1a"/>
<rect x="200.00" y="616.52" width="8.25" height="40.48" fill="#3aa6df"/>
<line x1="204.12" y1="616.52" x2="204.12" y2="596.28" stroke="#333" stroke-width="1.0"/>
<line x1="202.62" y1="596.28" x2="205.62" y2="596.28" stroke="#333" stroke-width="1.0"/>
<circle cx="205.95" cy="604.34" r="0.85" fill="#1a1a1a"/>
<circle cx="203.70" cy="586.57" r="0.85" fill="#1a1a1a"/>
<circle cx="205.86" cy="632.08" r="0.85" fill="#1a1a1a"/>
<circle cx="201.92" cy="606.00" r="0.85" fill="#1a1a1a"/>
<circle cx="204.36" cy="619.16" r="0.85" fill="#1a1a1a"/>
<circle cx="202.26" cy="591.18" r="0.85" fill="#1a1a1a"/>
<circle cx="204.68" cy="585.63" r="0.85" fill="#1a1a1a"/>
<circle cx="202.52" cy="601.66" r="0.85" fill="#1a1a1a"/>
<polyline points="154.10,509.90 154.10,506.50 191.60,506.50 191.60,509.90" fill="none" stroke="#555" stroke-width="0.9"/>
<circle cx="167.45" cy="501.00" r="1.15" fill="#231f20"/>
<circle cx="171.05" cy="501.00" r="1.15" fill="#231f20"/>
<circle cx="174.65" cy="501.00" r="1.15" fill="#231f20"/>
<circle cx="178.25" cy="501.00" r="1.15" fill="#231f20"/>
<polyline points="166.60,525.90 166.60,522.50 191.60,522.50 191.60,525.90" fill="none" stroke="#555" stroke-width="0.9"/>
<circle cx="173.70" cy="516.80" r="1.15" fill="#231f20"/>
<circle cx="177.30" cy="516.80" r="1.15" fill="#231f20"/>
<circle cx="180.90" cy="516.80" r="1.15" fill="#231f20"/>
<circle cx="184.50" cy="516.80" r="1.15" fill="#231f20"/>
<polyline points="179.10,541.90 179.10,538.50 191.60,538.50 191.60,541.90" fill="none" stroke="#555" stroke-width="0.9"/>
<circle cx="179.95" cy="533.60" r="1.15" fill="#231f20"/>
<circle cx="183.55" cy="533.60" r="1.15" fill="#231f20"/>
<circle cx="187.15" cy="533.60" r="1.15" fill="#231f20"/>
<circle cx="190.75" cy="533.60" r="1.15" fill="#231f20"/>
<polyline points="191.60,558.90 191.60,555.50 204.10,555.50 204.10,558.90" fill="none" stroke="#555" stroke-width="0.9"/>
<circle cx="192.45" cy="549.80" r="1.15" fill="#231f20"/>
<circle cx="196.05" cy="549.80" r="1.15" fill="#231f20"/>
<circle cx="199.65" cy="549.80" r="1.15" fill="#231f20"/>
<circle cx="203.25" cy="549.80" r="1.15" fill="#231f20"/>
<text x="179.10" y="671.80" font-size="8.8" text-anchor="middle" font-weight="normal" fill="#231f20" stroke="#231f20" stroke-width="0.12">1</text>
<rect x="221.30" y="636.32" width="8.25" height="20.68" fill="#c66a1e"/>
<line x1="225.43" y1="636.32" x2="225.43" y2="616.52" stroke="#333" stroke-width="1.0"/>
<line x1="223.93" y1="616.52" x2="226.93" y2="616.52" stroke="#333" stroke-width="1.0"/>
<circle cx="224.44" cy="651.64" r="0.85" fill="#1a1a1a"/>
<circle cx="223.65" cy="604.64" r="0.85" fill="#1a1a1a"/>
<circle cx="225.38" cy="630.94" r="0.85" fill="#1a1a1a"/>
<circle cx="224.05" cy="652.03" r="0.85" fill="#1a1a1a"/>
<circle cx="223.73" cy="604.64" r="0.85" fill="#1a1a1a"/>
<circle cx="225.35" cy="656.10" r="0.85" fill="#1a1a1a"/>
<circle cx="223.40" cy="619.32" r="0.85" fill="#1a1a1a"/>
<circle cx="227.26" cy="652.11" r="0.85" fill="#1a1a1a"/>
<rect x="233.80" y="646.00" width="8.25" height="11.00" fill="#3ba63b"/>
<line x1="237.93" y1="646.00" x2="237.93" y2="635.44" stroke="#333" stroke-width="1.0"/>
<line x1="236.43" y1="635.44" x2="239.43" y2="635.44" stroke="#333" stroke-width="1.0"/>
<circle cx="238.47" cy="641.79" r="0.85" fill="#1a1a1a"/>
<circle cx="239.22" cy="648.54" r="0.85" fill="#1a1a1a"/>
<circle cx="236.66" cy="640.99" r="0.85" fill="#1a1a1a"/>
<circle cx="239.42" cy="630.82" r="0.85" fill="#1a1a1a"/>
<circle cx="236.49" cy="656.10" r="0.85" fill="#1a1a1a"/>
<circle cx="238.01" cy="647.91" r="0.85" fill="#1a1a1a"/>
<circle cx="237.40" cy="655.41" r="0.85" fill="#1a1a1a"/>
<circle cx="238.95" cy="651.12" r="0.85" fill="#1a1a1a"/>
<rect x="246.30" y="653.92" width="8.25" height="3.08" fill="#f39a1e"/>
<line x1="250.43" y1="653.92" x2="250.43" y2="649.96" stroke="#333" stroke-width="1.0"/>
<line x1="248.93" y1="649.96" x2="251.93" y2="649.96" stroke="#333" stroke-width="1.0"/>
<circle cx="252.23" cy="655.80" r="0.85" fill="#1a1a1a"/>
<circle cx="251.59" cy="656.10" r="0.85" fill="#1a1a1a"/>
<circle cx="248.33" cy="655.09" r="0.85" fill="#1a1a1a"/>
<circle cx="250.88" cy="654.86" r="0.85" fill="#1a1a1a"/>
<circle cx="250.65" cy="652.40" r="0.85" fill="#1a1a1a"/>
<circle cx="250.06" cy="651.79" r="0.85" fill="#1a1a1a"/>
<rect x="258.80" y="619.16" width="8.25" height="37.84" fill="#afc295"/>
<line x1="262.93" y1="619.16" x2="262.93" y2="604.64" stroke="#333" stroke-width="1.0"/>
<line x1="261.43" y1="604.64" x2="264.43" y2="604.64" stroke="#333" stroke-width="1.0"/>
<circle cx="263.30" cy="611.16" r="0.85" fill="#1a1a1a"/>
<circle cx="262.68" cy="602.04" r="0.85" fill="#1a1a1a"/>
<circle cx="262.65" cy="627.78" r="0.85" fill="#1a1a1a"/>
<circle cx="262.88" cy="637.12" r="0.85" fill="#1a1a1a"/>
<circle cx="261.72" cy="621.82" r="0.85" fill="#1a1a1a"/>
<circle cx="262.74" cy="621.10" r="0.85" fill="#1a1a1a"/>
<circle cx="261.47" cy="596.50" r="0.85" fill="#1a1a1a"/>
<circle cx="261.24" cy="613.03" r="0.85" fill="#1a1a1a"/>
<circle cx="262.61" cy="620.20" r="0.85" fill="#1a1a1a"/>
<rect x="271.30" y="633.68" width="8.25" height="23.32" fill="#3aa6df"/>
<line x1="275.43" y1="633.68" x2="275.43" y2="607.28" stroke="#333" stroke-width="1.0"/>
<line x1="273.93" y1="607.28" x2="276.93" y2="607.28" stroke="#333" stroke-width="1.0"/>
<circle cx="275.47" cy="655.20" r="0.85" fill="#1a1a1a"/>
<circle cx="273.34" cy="647.66" r="0.85" fill="#1a1a1a"/>
<circle cx="276.48" cy="627.24" r="0.85" fill="#1a1a1a"/>
<circle cx="276.68" cy="626.24" r="0.85" fill="#1a1a1a"/>
<circle cx="275.44" cy="625.76" r="0.85" fill="#1a1a1a"/>
<circle cx="274.87" cy="633.11" r="0.85" fill="#1a1a1a"/>
<circle cx="277.05" cy="645.93" r="0.85" fill="#1a1a1a"/>
<circle cx="277.68" cy="629.77" r="0.85" fill="#1a1a1a"/>
<polyline points="225.40,509.90 225.40,506.50 262.90,506.50 262.90,509.90" fill="none" stroke="#555" stroke-width="0.9"/>
<circle cx="238.75" cy="501.00" r="1.15" fill="#231f20"/>
<circle cx="242.35" cy="501.00" r="1.15" fill="#231f20"/>
<circle cx="245.95" cy="501.00" r="1.15" fill="#231f20"/>
<circle cx="249.55" cy="501.00" r="1.15" fill="#231f20"/>
<polyline points="237.90,525.90 237.90,522.50 262.90,522.50 262.90,525.90" fill="none" stroke="#555" stroke-width="0.9"/>
<circle cx="245.00" cy="516.80" r="1.15" fill="#231f20"/>
<circle cx="248.60" cy="516.80" r="1.15" fill="#231f20"/>
<circle cx="252.20" cy="516.80" r="1.15" fill="#231f20"/>
<circle cx="255.80" cy="516.80" r="1.15" fill="#231f20"/>
<polyline points="250.40,541.90 250.40,538.50 262.90,538.50 262.90,541.90" fill="none" stroke="#555" stroke-width="0.9"/>
<circle cx="251.25" cy="533.60" r="1.15" fill="#231f20"/>
<circle cx="254.85" cy="533.60" r="1.15" fill="#231f20"/>
<circle cx="258.45" cy="533.60" r="1.15" fill="#231f20"/>
<circle cx="262.05" cy="533.60" r="1.15" fill="#231f20"/>
<polyline points="262.90,558.90 262.90,555.50 275.40,555.50 275.40,558.90" fill="none" stroke="#555" stroke-width="0.9"/>
<circle cx="263.75" cy="549.80" r="1.15" fill="#231f20"/>
<circle cx="267.35" cy="549.80" r="1.15" fill="#231f20"/>
<circle cx="270.95" cy="549.80" r="1.15" fill="#231f20"/>
<circle cx="274.55" cy="549.80" r="1.15" fill="#231f20"/>
<text x="250.40" y="671.80" font-size="8.8" text-anchor="middle" font-weight="normal" fill="#231f20" stroke="#231f20" stroke-width="0.12">2</text>
<rect x="292.60" y="638.52" width="8.25" height="18.48" fill="#c66a1e"/>
<line x1="296.73" y1="638.52" x2="296.73" y2="617.40" stroke="#333" stroke-width="1.0"/>
<line x1="295.23" y1="617.40" x2="298.23" y2="617.40" stroke="#333" stroke-width="1.0"/>
<circle cx="295.34" cy="634.60" r="0.85" fill="#1a1a1a"/>
<circle cx="298.91" cy="604.73" r="0.85" fill="#1a1a1a"/>
<circle cx="298.61" cy="604.73" r="0.85" fill="#1a1a1a"/>
<circle cx="295.21" cy="640.95" r="0.85" fill="#1a1a1a"/>
<circle cx="294.75" cy="649.01" r="0.85" fill="#1a1a1a"/>
<circle cx="296.05" cy="604.73" r="0.85" fill="#1a1a1a"/>
<circle cx="298.52" cy="638.95" r="0.85" fill="#1a1a1a"/>
<rect x="305.10" y="648.64" width="8.25" height="8.36" fill="#3ba63b"/>
<line x1="309.23" y1="648.64" x2="309.23" y2="640.28" stroke="#333" stroke-width="1.0"/>
<line x1="307.73" y1="640.28" x2="310.73" y2="640.28" stroke="#333" stroke-width="1.0"/>
<circle cx="308.20" cy="644.22" r="0.85" fill="#1a1a1a"/>
<circle cx="309.24" cy="650.32" r="0.85" fill="#1a1a1a"/>
<circle cx="311.13" cy="644.80" r="0.85" fill="#1a1a1a"/>
<circle cx="309.25" cy="650.16" r="0.85" fill="#1a1a1a"/>
<circle cx="308.40" cy="654.32" r="0.85" fill="#1a1a1a"/>
<circle cx="307.69" cy="653.28" r="0.85" fill="#1a1a1a"/>
<circle cx="311.21" cy="649.73" r="0.85" fill="#1a1a1a"/>
<rect x="317.60" y="653.04" width="8.25" height="3.96" fill="#f39a1e"/>
<line x1="321.73" y1="653.04" x2="321.73" y2="648.20" stroke="#333" stroke-width="1.0"/>
<line x1="320.23" y1="648.20" x2="323.23" y2="648.20" stroke="#333" stroke-width="1.0"/>
<circle cx="320.22" cy="649.08" r="0.85" fill="#1a1a1a"/>
<circle cx="323.02" cy="645.30" r="0.85" fill="#1a1a1a"/>
<circle cx="322.34" cy="656.10" r="0.85" fill="#1a1a1a"/>
<circle cx="321.09" cy="656.10" r="0.85" fill="#1a1a1a"/>
<circle cx="322.09" cy="656.10" r="0.85" fill="#1a1a1a"/>
<circle cx="323.46" cy="649.07" r="0.85" fill="#1a1a1a"/>
<rect x="330.10" y="626.20" width="8.25" height="30.80" fill="#afc295"/>
<line x1="334.23" y1="626.20" x2="334.23" y2="606.40" stroke="#333" stroke-width="1.0"/>
<line x1="332.73" y1="606.40" x2="335.73" y2="606.40" stroke="#333" stroke-width="1.0"/>
<circle cx="334.81" cy="656.10" r="0.85" fill="#1a1a1a"/>
<circle cx="333.75" cy="656.10" r="0.85" fill="#1a1a1a"/>
<circle cx="336.45" cy="630.32" r="0.85" fill="#1a1a1a"/>
<circle cx="334.58" cy="612.85" r="0.85" fill="#1a1a1a"/>
<circle cx="333.96" cy="606.84" r="0.85" fill="#1a1a1a"/>
<circle cx="332.76" cy="649.52" r="0.85" fill="#1a1a1a"/>
<circle cx="335.68" cy="625.97" r="0.85" fill="#1a1a1a"/>
<circle cx="333.11" cy="620.60" r="0.85" fill="#1a1a1a"/>
<circle cx="334.61" cy="594.52" r="0.85" fill="#1a1a1a"/>
<rect x="342.60" y="642.04" width="8.25" height="14.96" fill="#3aa6df"/>
<line x1="346.73" y1="642.04" x2="346.73" y2="626.64" stroke="#333" stroke-width="1.0"/>
<line x1="345.23" y1="626.64" x2="348.23" y2="626.64" stroke="#333" stroke-width="1.0"/>
<circle cx="347.47" cy="617.40" r="0.85" fill="#1a1a1a"/>
<circle cx="344.61" cy="641.72" r="0.85" fill="#1a1a1a"/>
<circle cx="345.13" cy="642.81" r="0.85" fill="#1a1a1a"/>
<circle cx="346.78" cy="631.04" r="0.85" fill="#1a1a1a"/>
<circle cx="348.52" cy="632.21" r="0.85" fill="#1a1a1a"/>
<circle cx="347.42" cy="648.76" r="0.85" fill="#1a1a1a"/>
<circle cx="344.56" cy="649.38" r="0.85" fill="#1a1a1a"/>
<circle cx="344.94" cy="655.02" r="0.85" fill="#1a1a1a"/>
<polyline points="296.70,509.90 296.70,506.50 334.20,506.50 334.20,509.90" fill="none" stroke="#555" stroke-width="0.9"/>
<circle cx="310.05" cy="501.00" r="1.15" fill="#231f20"/>
<circle cx="313.65" cy="501.00" r="1.15" fill="#231f20"/>
<circle cx="317.25" cy="501.00" r="1.15" fill="#231f20"/>
<circle cx="320.85" cy="501.00" r="1.15" fill="#231f20"/>
<polyline points="309.20,525.90 309.20,522.50 334.20,522.50 334.20,525.90" fill="none" stroke="#555" stroke-width="0.9"/>
<circle cx="316.30" cy="516.80" r="1.15" fill="#231f20"/>
<circle cx="319.90" cy="516.80" r="1.15" fill="#231f20"/>
<circle cx="323.50" cy="516.80" r="1.15" fill="#231f20"/>
<circle cx="327.10" cy="516.80" r="1.15" fill="#231f20"/>
<polyline points="321.70,541.90 321.70,538.50 334.20,538.50 334.20,541.90" fill="none" stroke="#555" stroke-width="0.9"/>
<circle cx="322.55" cy="533.60" r="1.15" fill="#231f20"/>
<circle cx="326.15" cy="533.60" r="1.15" fill="#231f20"/>
<circle cx="329.75" cy="533.60" r="1.15" fill="#231f20"/>
<circle cx="333.35" cy="533.60" r="1.15" fill="#231f20"/>
<polyline points="334.20,558.90 334.20,555.50 346.70,555.50 346.70,558.90" fill="none" stroke="#555" stroke-width="0.9"/>
<circle cx="335.05" cy="549.80" r="1.15" fill="#231f20"/>
<circle cx="338.65" cy="549.80" r="1.15" fill="#231f20"/>
<circle cx="342.25" cy="549.80" r="1.15" fill="#231f20"/>
<circle cx="345.85" cy="549.80" r="1.15" fill="#231f20"/>
<text x="321.70" y="671.80" font-size="8.8" text-anchor="middle" font-weight="normal" fill="#231f20" stroke="#231f20" stroke-width="0.12">3</text>
<line x1="144.80" y1="657.00" x2="355.00" y2="657.00" stroke="#231f20" stroke-width="1.3"/>
<line x1="179.10" y1="657.00" x2="179.10" y2="660.00" stroke="#231f20" stroke-width="1.0"/>
<line x1="250.40" y1="657.00" x2="250.40" y2="660.00" stroke="#231f20" stroke-width="1.0"/>
<line x1="321.70" y1="657.00" x2="321.70" y2="660.00" stroke="#231f20" stroke-width="1.0"/>
<text x="122.60" y="603.50" font-size="10.6" text-anchor="middle" font-weight="normal" fill="#231f20" stroke="#231f20" stroke-width="0.4" textLength="90" lengthAdjust="spacingAndGlyphs" transform="rotate(-90 122.60 603.50)">CD45.1<tspan baseline-shift="super" font-size="7">+</tspan> engraftment (%)</text>
<text x="193.00" y="685.80" font-size="10.6" text-anchor="start" font-weight="normal" fill="#231f20" stroke="#231f20" stroke-width="0.4" textLength="114" lengthAdjust="spacingAndGlyphs">Time after transplantation (months)</text>
<rect x="368.00" y="573.10" width="16.00" height="4.60" fill="#c66a1e"/>
<text x="388.00" y="578.30" font-size="8.1" text-anchor="start" font-weight="normal" fill="#231f20" stroke="#231f20" stroke-width="0.12">SLU-2609 + plerixafor</text>
<rect x="368.00" y="586.10" width="16.00" height="4.60" fill="#3ba63b"/>
<text x="388.00" y="591.30" font-size="8.1" text-anchor="start" font-weight="normal" fill="#231f20" stroke="#231f20" stroke-width="0.12">SLU-2609 + tGro-β</text>
<rect x="368.00" y="599.10" width="16.00" height="4.60" fill="#f39a1e"/>
<text x="388.00" y="604.30" font-size="8.1" text-anchor="start" font-weight="normal" fill="#231f20" stroke="#231f20" stroke-width="0.12">Plerixafor + tGro-β</text>
<rect x="368.00" y="612.10" width="16.00" height="4.60" fill="#afc295"/>
<text x="388.00" y="617.30" font-size="8.1" text-anchor="start" font-weight="normal" fill="#231f20" stroke="#231f20" stroke-width="0.12">SLU-2609 + plerixafor + tGro-β</text>
<rect x="368.00" y="625.10" width="16.00" height="4.60" fill="#3aa6df"/>
<text x="388.00" y="630.30" font-size="8.1" text-anchor="start" font-weight="normal" fill="#231f20" stroke="#231f20" stroke-width="0.12">G-CSF</text></svg></body></html>
